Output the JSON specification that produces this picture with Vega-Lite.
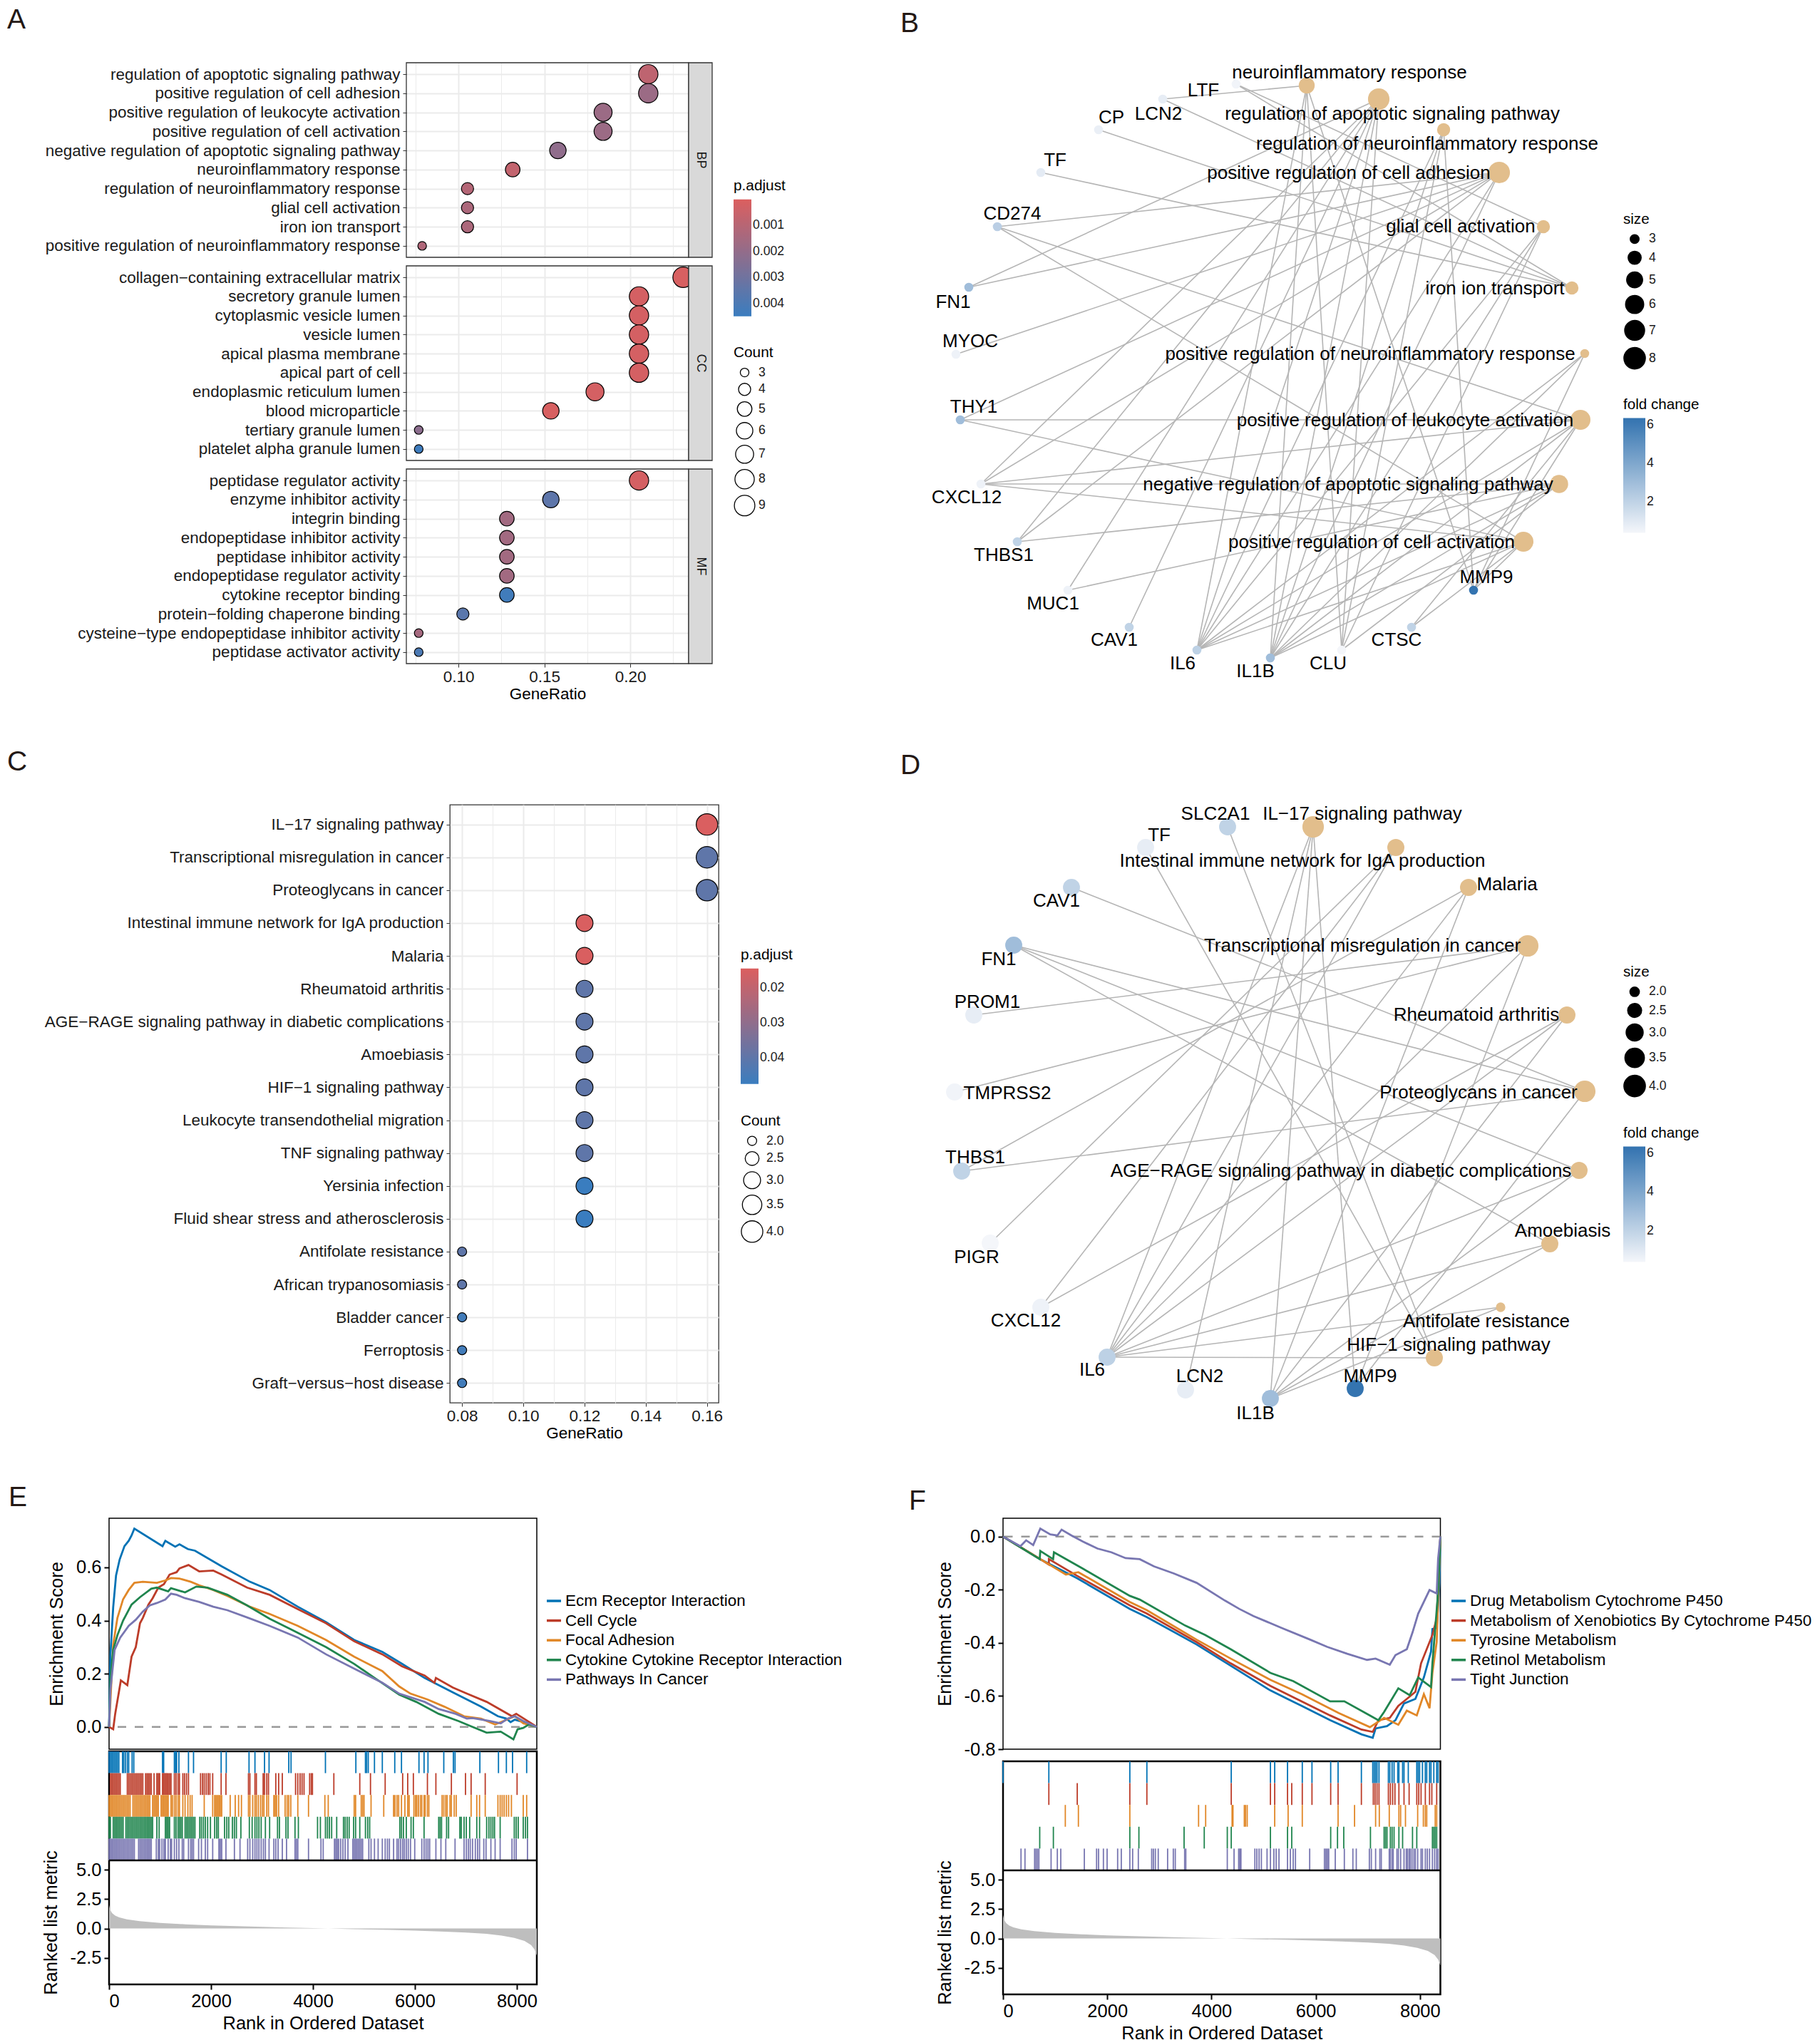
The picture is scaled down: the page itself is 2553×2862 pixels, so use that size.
{
"$schema": "https://vega.github.io/schema/vega-lite/v6.json",
"background": "white",
"padding": {"left": 10, "top": 8, "right": 0, "bottom": 0},
"config": {
 "font": "Liberation Sans",
 "view": {"stroke": null},
 "axis": {"titleFontWeight": "normal", "labelColor": "#1A1A1A", "titleColor": "#000000", "tickColor": "#333333", "domain": false, "grid": false},
 "legend": {"titleFontWeight": "normal", "labelColor": "#1A1A1A", "titleColor": "#000000"},
 "title": {"fontWeight": "normal"}
},
"datasets": {
 "blank": [{"t": ""}],
 "goA": [
  {"ont":"BP","desc":"regulation of apoptotic signaling pathway","ratio":0.2105,"count":8,"padj":0.0008},
  {"ont":"BP","desc":"positive regulation of cell adhesion","ratio":0.2105,"count":8,"padj":0.0018},
  {"ont":"BP","desc":"positive regulation of leukocyte activation","ratio":0.1842,"count":7,"padj":0.0018},
  {"ont":"BP","desc":"positive regulation of cell activation","ratio":0.1842,"count":7,"padj":0.0018},
  {"ont":"BP","desc":"negative regulation of apoptotic signaling pathway","ratio":0.1579,"count":6,"padj":0.0021},
  {"ont":"BP","desc":"neuroinflammatory response","ratio":0.1316,"count":5,"padj":0.0007},
  {"ont":"BP","desc":"regulation of neuroinflammatory response","ratio":0.1053,"count":4,"padj":0.0011},
  {"ont":"BP","desc":"glial cell activation","ratio":0.1053,"count":4,"padj":0.0013},
  {"ont":"BP","desc":"iron ion transport","ratio":0.1053,"count":4,"padj":0.0013},
  {"ont":"BP","desc":"positive regulation of neuroinflammatory response","ratio":0.0789,"count":3,"padj":0.0012},
  {"ont":"CC","desc":"collagen−containing extracellular matrix","ratio":0.2308,"count":9,"padj":0.0001},
  {"ont":"CC","desc":"secretory granule lumen","ratio":0.2051,"count":8,"padj":0.0002},
  {"ont":"CC","desc":"cytoplasmic vesicle lumen","ratio":0.2051,"count":8,"padj":0.0002},
  {"ont":"CC","desc":"vesicle lumen","ratio":0.2051,"count":8,"padj":0.0002},
  {"ont":"CC","desc":"apical plasma membrane","ratio":0.2051,"count":8,"padj":0.0002},
  {"ont":"CC","desc":"apical part of cell","ratio":0.2051,"count":8,"padj":0.0002},
  {"ont":"CC","desc":"endoplasmic reticulum lumen","ratio":0.1795,"count":7,"padj":0.0002},
  {"ont":"CC","desc":"blood microparticle","ratio":0.1538,"count":6,"padj":0.0001},
  {"ont":"CC","desc":"tertiary granule lumen","ratio":0.0769,"count":3,"padj":0.0022},
  {"ont":"CC","desc":"platelet alpha granule lumen","ratio":0.0769,"count":3,"padj":0.0044},
  {"ont":"MF","desc":"peptidase regulator activity","ratio":0.2051,"count":8,"padj":0.0002},
  {"ont":"MF","desc":"enzyme inhibitor activity","ratio":0.1538,"count":6,"padj":0.0035},
  {"ont":"MF","desc":"integrin binding","ratio":0.1282,"count":5,"padj":0.0016},
  {"ont":"MF","desc":"endopeptidase inhibitor activity","ratio":0.1282,"count":5,"padj":0.0016},
  {"ont":"MF","desc":"peptidase inhibitor activity","ratio":0.1282,"count":5,"padj":0.0016},
  {"ont":"MF","desc":"endopeptidase regulator activity","ratio":0.1282,"count":5,"padj":0.0016},
  {"ont":"MF","desc":"cytokine receptor binding","ratio":0.1282,"count":5,"padj":0.0043},
  {"ont":"MF","desc":"protein−folding chaperone binding","ratio":0.1026,"count":4,"padj":0.0036},
  {"ont":"MF","desc":"cysteine−type endopeptidase inhibitor activity","ratio":0.0769,"count":3,"padj":0.0015},
  {"ont":"MF","desc":"peptidase activator activity","ratio":0.0769,"count":3,"padj":0.0040}
 ],
 "ontA": [{"ont":"BP"},{"ont":"CC"},{"ont":"MF"}],
 "goC": [
  {"desc":"IL−17 signaling pathway","ratio":0.16,"count":4,"padj":0.0147},
  {"desc":"Transcriptional misregulation in cancer","ratio":0.16,"count":4,"padj":0.040},
  {"desc":"Proteoglycans in cancer","ratio":0.16,"count":4,"padj":0.040},
  {"desc":"Intestinal immune network for IgA production","ratio":0.12,"count":3,"padj":0.0150},
  {"desc":"Malaria","ratio":0.12,"count":3,"padj":0.0150},
  {"desc":"Rheumatoid arthritis","ratio":0.12,"count":3,"padj":0.040},
  {"desc":"AGE−RAGE signaling pathway in diabetic complications","ratio":0.12,"count":3,"padj":0.040},
  {"desc":"Amoebiasis","ratio":0.12,"count":3,"padj":0.040},
  {"desc":"HIF−1 signaling pathway","ratio":0.12,"count":3,"padj":0.040},
  {"desc":"Leukocyte transendothelial migration","ratio":0.12,"count":3,"padj":0.040},
  {"desc":"TNF signaling pathway","ratio":0.12,"count":3,"padj":0.040},
  {"desc":"Yersinia infection","ratio":0.12,"count":3,"padj":0.0476},
  {"desc":"Fluid shear stress and atherosclerosis","ratio":0.12,"count":3,"padj":0.0476},
  {"desc":"Antifolate resistance","ratio":0.08,"count":2,"padj":0.040},
  {"desc":"African trypanosomiasis","ratio":0.08,"count":2,"padj":0.040},
  {"desc":"Bladder cancer","ratio":0.08,"count":2,"padj":0.046},
  {"desc":"Ferroptosis","ratio":0.08,"count":2,"padj":0.046},
  {"desc":"Graft−versus−host disease","ratio":0.08,"count":2,"padj":0.046}
 ],
 "nodesB": [
  {"name":"neuroinflammatory response","type":"c","x":574,"y":116,"lx":634,"ly":98,"size":5},
  {"name":"regulation of apoptotic signaling pathway","type":"c","x":675,"y":135,"lx":694,"ly":156,"size":8},
  {"name":"regulation of neuroinflammatory response","type":"c","x":766,"y":178,"lx":743,"ly":198,"size":4},
  {"name":"positive regulation of cell adhesion","type":"c","x":844,"y":238,"lx":633,"ly":239,"size":8},
  {"name":"glial cell activation","type":"c","x":906,"y":314,"lx":790,"ly":314,"size":4},
  {"name":"iron ion transport","type":"c","x":946,"y":400,"lx":838,"ly":401,"size":4},
  {"name":"positive regulation of neuroinflammatory response","type":"c","x":964,"y":492,"lx":663,"ly":493,"size":3},
  {"name":"positive regulation of leukocyte activation","type":"c","x":958,"y":585,"lx":712,"ly":586,"size":7},
  {"name":"negative regulation of apoptotic signaling pathway","type":"c","x":928,"y":675,"lx":632,"ly":676,"size":6},
  {"name":"positive regulation of cell activation","type":"c","x":878,"y":756,"lx":665,"ly":757,"size":7},
  {"name":"LTF","type":"g","x":475,"y":114,"lx":429,"ly":123,"fc":0.5},
  {"name":"LCN2","type":"g","x":372,"y":135,"lx":366,"ly":156,"fc":0.8},
  {"name":"CP","type":"g","x":282,"y":178,"lx":300,"ly":161,"fc":0.7},
  {"name":"TF","type":"g","x":201,"y":238,"lx":221,"ly":221,"fc":0.9},
  {"name":"CD274","type":"g","x":140,"y":314,"lx":161,"ly":296,"fc":2.2},
  {"name":"FN1","type":"g","x":100,"y":399,"lx":78,"ly":420,"fc":3.0},
  {"name":"MYOC","type":"g","x":82,"y":493,"lx":102,"ly":475,"fc":0.6},
  {"name":"THY1","type":"g","x":88,"y":585,"lx":107,"ly":567,"fc":3.0},
  {"name":"CXCL12","type":"g","x":117,"y":675,"lx":97,"ly":694,"fc":0.6},
  {"name":"THBS1","type":"g","x":168,"y":756,"lx":149,"ly":775,"fc":2.0},
  {"name":"MUC1","type":"g","x":239,"y":824,"lx":218,"ly":843,"fc":0.6},
  {"name":"CAV1","type":"g","x":325,"y":876,"lx":304,"ly":894,"fc":2.0},
  {"name":"IL6","type":"g","x":420,"y":908,"lx":400,"ly":927,"fc":2.1},
  {"name":"IL1B","type":"g","x":523,"y":919,"lx":502,"ly":938,"fc":3.0},
  {"name":"CLU","type":"g","x":623,"y":908,"lx":604,"ly":927,"fc":0.4},
  {"name":"CTSC","type":"g","x":721,"y":876,"lx":700,"ly":894,"fc":2.0},
  {"name":"MMP9","type":"g","x":808,"y":824,"lx":826,"ly":806,"fc":6.3}
 ],
 "edgesB": [
  {"g":"IL6","c":"regulation of apoptotic signaling pathway"},{"g":"IL1B","c":"regulation of apoptotic signaling pathway"},{"g":"CLU","c":"regulation of apoptotic signaling pathway"},{"g":"CAV1","c":"regulation of apoptotic signaling pathway"},{"g":"THBS1","c":"regulation of apoptotic signaling pathway"},{"g":"CXCL12","c":"regulation of apoptotic signaling pathway"},{"g":"MUC1","c":"regulation of apoptotic signaling pathway"},{"g":"FN1","c":"regulation of apoptotic signaling pathway"},
  {"g":"IL6","c":"negative regulation of apoptotic signaling pathway"},{"g":"IL1B","c":"negative regulation of apoptotic signaling pathway"},{"g":"CLU","c":"negative regulation of apoptotic signaling pathway"},{"g":"THBS1","c":"negative regulation of apoptotic signaling pathway"},{"g":"CXCL12","c":"negative regulation of apoptotic signaling pathway"},{"g":"MUC1","c":"negative regulation of apoptotic signaling pathway"},
  {"g":"IL6","c":"positive regulation of cell adhesion"},{"g":"IL1B","c":"positive regulation of cell adhesion"},{"g":"CD274","c":"positive regulation of cell adhesion"},{"g":"FN1","c":"positive regulation of cell adhesion"},{"g":"THY1","c":"positive regulation of cell adhesion"},{"g":"CXCL12","c":"positive regulation of cell adhesion"},{"g":"THBS1","c":"positive regulation of cell adhesion"},{"g":"MYOC","c":"positive regulation of cell adhesion"},
  {"g":"IL6","c":"positive regulation of leukocyte activation"},{"g":"IL1B","c":"positive regulation of leukocyte activation"},{"g":"CD274","c":"positive regulation of leukocyte activation"},{"g":"THY1","c":"positive regulation of leukocyte activation"},{"g":"CXCL12","c":"positive regulation of leukocyte activation"},{"g":"CTSC","c":"positive regulation of leukocyte activation"},{"g":"MMP9","c":"positive regulation of leukocyte activation"},
  {"g":"IL6","c":"positive regulation of cell activation"},{"g":"IL1B","c":"positive regulation of cell activation"},{"g":"CD274","c":"positive regulation of cell activation"},{"g":"THY1","c":"positive regulation of cell activation"},{"g":"CXCL12","c":"positive regulation of cell activation"},{"g":"CTSC","c":"positive regulation of cell activation"},{"g":"MMP9","c":"positive regulation of cell activation"},
  {"g":"IL6","c":"neuroinflammatory response"},{"g":"IL1B","c":"neuroinflammatory response"},{"g":"CLU","c":"neuroinflammatory response"},{"g":"MMP9","c":"neuroinflammatory response"},{"g":"LCN2","c":"neuroinflammatory response"},
  {"g":"IL6","c":"regulation of neuroinflammatory response"},{"g":"IL1B","c":"regulation of neuroinflammatory response"},{"g":"CLU","c":"regulation of neuroinflammatory response"},{"g":"MMP9","c":"regulation of neuroinflammatory response"},
  {"g":"IL6","c":"glial cell activation"},{"g":"IL1B","c":"glial cell activation"},{"g":"CLU","c":"glial cell activation"},{"g":"LTF","c":"glial cell activation"},
  {"g":"LTF","c":"iron ion transport"},{"g":"LCN2","c":"iron ion transport"},{"g":"CP","c":"iron ion transport"},{"g":"TF","c":"iron ion transport"},
  {"g":"IL6","c":"positive regulation of neuroinflammatory response"},{"g":"IL1B","c":"positive regulation of neuroinflammatory response"},{"g":"MMP9","c":"positive regulation of neuroinflammatory response"}
 ],
 "nodesD": [
  {"name":"IL−17 signaling pathway","type":"c","x":583,"y":115,"lx":652,"ly":97,"size":4},
  {"name":"Intestinal immune network for IgA production","type":"c","x":699,"y":144,"lx":568,"ly":163,"size":3},
  {"name":"Malaria","type":"c","x":801,"y":200,"lx":855,"ly":196,"size":3},
  {"name":"Transcriptional misregulation in cancer","type":"c","x":884,"y":282,"lx":652,"ly":282,"size":4},
  {"name":"Rheumatoid arthritis","type":"c","x":939,"y":379,"lx":812,"ly":379,"size":3},
  {"name":"Proteoglycans in cancer","type":"c","x":964,"y":486,"lx":815,"ly":488,"size":4},
  {"name":"AGE−RAGE signaling pathway in diabetic complications","type":"c","x":956,"y":597,"lx":622,"ly":598,"size":3},
  {"name":"Amoebiasis","type":"c","x":915,"y":700,"lx":933,"ly":682,"size":3},
  {"name":"Antifolate resistance","type":"c","x":846,"y":789,"lx":826,"ly":809,"size":2},
  {"name":"HIF−1 signaling pathway","type":"c","x":753,"y":860,"lx":773,"ly":842,"size":3},
  {"name":"SLC2A1","type":"g","x":463,"y":115,"lx":446,"ly":97,"fc":2.0},
  {"name":"TF","type":"g","x":348,"y":144,"lx":367,"ly":127,"fc":0.8},
  {"name":"CAV1","type":"g","x":244,"y":200,"lx":223,"ly":219,"fc":2.0},
  {"name":"FN1","type":"g","x":163,"y":281,"lx":142,"ly":301,"fc":3.0},
  {"name":"PROM1","type":"g","x":107,"y":379,"lx":126,"ly":361,"fc":0.8},
  {"name":"TMPRSS2","type":"g","x":80,"y":487,"lx":154,"ly":489,"fc":0.5},
  {"name":"THBS1","type":"g","x":90,"y":598,"lx":109,"ly":579,"fc":2.0},
  {"name":"PIGR","type":"g","x":130,"y":699,"lx":111,"ly":719,"fc":0.4},
  {"name":"CXCL12","type":"g","x":201,"y":789,"lx":180,"ly":808,"fc":0.6},
  {"name":"IL6","type":"g","x":294,"y":859,"lx":273,"ly":877,"fc":2.1},
  {"name":"LCN2","type":"g","x":404,"y":905,"lx":424,"ly":886,"fc":0.8},
  {"name":"IL1B","type":"g","x":523,"y":917,"lx":502,"ly":938,"fc":3.0},
  {"name":"MMP9","type":"g","x":642,"y":903,"lx":663,"ly":886,"fc":6.3}
 ],
 "edgesD": [
  {"g":"IL6","c":"IL−17 signaling pathway"},{"g":"IL1B","c":"IL−17 signaling pathway"},{"g":"MMP9","c":"IL−17 signaling pathway"},{"g":"LCN2","c":"IL−17 signaling pathway"},
  {"g":"IL6","c":"Intestinal immune network for IgA production"},{"g":"PIGR","c":"Intestinal immune network for IgA production"},{"g":"CXCL12","c":"Intestinal immune network for IgA production"},
  {"g":"IL6","c":"Malaria"},{"g":"IL1B","c":"Malaria"},{"g":"THBS1","c":"Malaria"},
  {"g":"IL6","c":"Transcriptional misregulation in cancer"},{"g":"MMP9","c":"Transcriptional misregulation in cancer"},{"g":"TMPRSS2","c":"Transcriptional misregulation in cancer"},{"g":"PROM1","c":"Transcriptional misregulation in cancer"},
  {"g":"IL6","c":"Rheumatoid arthritis"},{"g":"IL1B","c":"Rheumatoid arthritis"},{"g":"CXCL12","c":"Rheumatoid arthritis"},
  {"g":"CAV1","c":"Proteoglycans in cancer"},{"g":"FN1","c":"Proteoglycans in cancer"},{"g":"THBS1","c":"Proteoglycans in cancer"},{"g":"MMP9","c":"Proteoglycans in cancer"},
  {"g":"IL6","c":"AGE−RAGE signaling pathway in diabetic complications"},{"g":"IL1B","c":"AGE−RAGE signaling pathway in diabetic complications"},{"g":"FN1","c":"AGE−RAGE signaling pathway in diabetic complications"},
  {"g":"IL6","c":"Amoebiasis"},{"g":"IL1B","c":"Amoebiasis"},{"g":"FN1","c":"Amoebiasis"},
  {"g":"IL6","c":"Antifolate resistance"},{"g":"IL1B","c":"Antifolate resistance"},
  {"g":"IL6","c":"HIF−1 signaling pathway"},{"g":"SLC2A1","c":"HIF−1 signaling pathway"},{"g":"TF","c":"HIF−1 signaling pathway"}
 ],
 "esE": [
  {"s":"Ecm Receptor Interaction","r":0,"v":0},{"s":"Ecm Receptor Interaction","r":26,"v":0.27},{"s":"Ecm Receptor Interaction","r":81,"v":0.45},{"s":"Ecm Receptor Interaction","r":137,"v":0.57},{"s":"Ecm Receptor Interaction","r":208,"v":0.63},{"s":"Ecm Receptor Interaction","r":302,"v":0.68},{"s":"Ecm Receptor Interaction","r":385,"v":0.70},{"s":"Ecm Receptor Interaction","r":441,"v":0.72},{"s":"Ecm Receptor Interaction","r":496,"v":0.746},{"s":"Ecm Receptor Interaction","r":1049,"v":0.68},{"s":"Ecm Receptor Interaction","r":1104,"v":0.70},{"s":"Ecm Receptor Interaction","r":1298,"v":0.678},{"s":"Ecm Receptor Interaction","r":1381,"v":0.687},{"s":"Ecm Receptor Interaction","r":1546,"v":0.669},{"s":"Ecm Receptor Interaction","r":1685,"v":0.663},{"s":"Ecm Receptor Interaction","r":2210,"v":0.604},{"s":"Ecm Receptor Interaction","r":2763,"v":0.546},{"s":"Ecm Receptor Interaction","r":3150,"v":0.515},{"s":"Ecm Receptor Interaction","r":3703,"v":0.452},{"s":"Ecm Receptor Interaction","r":4256,"v":0.394},{"s":"Ecm Receptor Interaction","r":4809,"v":0.327},{"s":"Ecm Receptor Interaction","r":5361,"v":0.282},{"s":"Ecm Receptor Interaction","r":5748,"v":0.237},{"s":"Ecm Receptor Interaction","r":6191,"v":0.184},{"s":"Ecm Receptor Interaction","r":6744,"v":0.13},{"s":"Ecm Receptor Interaction","r":7297,"v":0.076},{"s":"Ecm Receptor Interaction","r":7629,"v":0.04},{"s":"Ecm Receptor Interaction","r":7795,"v":0.031},{"s":"Ecm Receptor Interaction","r":7878,"v":0.018},{"s":"Ecm Receptor Interaction","r":7961,"v":0.027},{"s":"Ecm Receptor Interaction","r":8126,"v":0.018},{"s":"Ecm Receptor Interaction","r":8392,"v":0},
  {"s":"Cell Cycle","r":0,"v":0},{"s":"Cell Cycle","r":81,"v":-0.009},{"s":"Cell Cycle","r":120,"v":0.049},{"s":"Cell Cycle","r":192,"v":0.13},{"s":"Cell Cycle","r":231,"v":0.175},{"s":"Cell Cycle","r":358,"v":0.157},{"s":"Cell Cycle","r":441,"v":0.264},{"s":"Cell Cycle","r":524,"v":0.30},{"s":"Cell Cycle","r":607,"v":0.39},{"s":"Cell Cycle","r":662,"v":0.41},{"s":"Cell Cycle","r":772,"v":0.46},{"s":"Cell Cycle","r":855,"v":0.484},{"s":"Cell Cycle","r":966,"v":0.524},{"s":"Cell Cycle","r":1076,"v":0.537},{"s":"Cell Cycle","r":1187,"v":0.573},{"s":"Cell Cycle","r":1325,"v":0.582},{"s":"Cell Cycle","r":1381,"v":0.596},{"s":"Cell Cycle","r":1558,"v":0.609},{"s":"Cell Cycle","r":1768,"v":0.585},{"s":"Cell Cycle","r":2044,"v":0.588},{"s":"Cell Cycle","r":2210,"v":0.573},{"s":"Cell Cycle","r":2707,"v":0.524},{"s":"Cell Cycle","r":3150,"v":0.497},{"s":"Cell Cycle","r":3703,"v":0.443},{"s":"Cell Cycle","r":4256,"v":0.39},{"s":"Cell Cycle","r":4809,"v":0.322},{"s":"Cell Cycle","r":5361,"v":0.273},{"s":"Cell Cycle","r":5748,"v":0.228},{"s":"Cell Cycle","r":6191,"v":0.193},{"s":"Cell Cycle","r":6384,"v":0.166},{"s":"Cell Cycle","r":6412,"v":0.184},{"s":"Cell Cycle","r":6744,"v":0.148},{"s":"Cell Cycle","r":7020,"v":0.125},{"s":"Cell Cycle","r":7408,"v":0.094},{"s":"Cell Cycle","r":7905,"v":0.04},{"s":"Cell Cycle","r":7988,"v":0.049},{"s":"Cell Cycle","r":8392,"v":0},
  {"s":"Focal Adhesion","r":0,"v":0},{"s":"Focal Adhesion","r":26,"v":0.094},{"s":"Focal Adhesion","r":81,"v":0.31},{"s":"Focal Adhesion","r":164,"v":0.41},{"s":"Focal Adhesion","r":275,"v":0.48},{"s":"Focal Adhesion","r":385,"v":0.515},{"s":"Focal Adhesion","r":496,"v":0.542},{"s":"Focal Adhesion","r":662,"v":0.546},{"s":"Focal Adhesion","r":938,"v":0.542},{"s":"Focal Adhesion","r":1104,"v":0.551},{"s":"Focal Adhesion","r":1215,"v":0.56},{"s":"Focal Adhesion","r":1381,"v":0.558},{"s":"Focal Adhesion","r":1602,"v":0.546},{"s":"Focal Adhesion","r":1768,"v":0.533},{"s":"Focal Adhesion","r":2044,"v":0.515},{"s":"Focal Adhesion","r":2320,"v":0.493},{"s":"Focal Adhesion","r":2763,"v":0.452},{"s":"Focal Adhesion","r":3150,"v":0.425},{"s":"Focal Adhesion","r":3703,"v":0.38},{"s":"Focal Adhesion","r":4256,"v":0.327},{"s":"Focal Adhesion","r":4809,"v":0.264},{"s":"Focal Adhesion","r":5361,"v":0.21},{"s":"Focal Adhesion","r":5693,"v":0.152},{"s":"Focal Adhesion","r":5914,"v":0.125},{"s":"Focal Adhesion","r":6246,"v":0.103},{"s":"Focal Adhesion","r":6578,"v":0.076},{"s":"Focal Adhesion","r":6965,"v":0.04},{"s":"Focal Adhesion","r":7297,"v":0.031},{"s":"Focal Adhesion","r":7574,"v":0.009},{"s":"Focal Adhesion","r":7740,"v":0.022},{"s":"Focal Adhesion","r":7961,"v":0.04},{"s":"Focal Adhesion","r":8126,"v":0.013},{"s":"Focal Adhesion","r":8392,"v":0},
  {"s":"Cytokine Cytokine Receptor Interaction","r":0,"v":0},{"s":"Cytokine Cytokine Receptor Interaction","r":26,"v":0.18},{"s":"Cytokine Cytokine Receptor Interaction","r":81,"v":0.29},{"s":"Cytokine Cytokine Receptor Interaction","r":164,"v":0.345},{"s":"Cytokine Cytokine Receptor Interaction","r":275,"v":0.40},{"s":"Cytokine Cytokine Receptor Interaction","r":441,"v":0.46},{"s":"Cytokine Cytokine Receptor Interaction","r":607,"v":0.488},{"s":"Cytokine Cytokine Receptor Interaction","r":828,"v":0.52},{"s":"Cytokine Cytokine Receptor Interaction","r":938,"v":0.524},{"s":"Cytokine Cytokine Receptor Interaction","r":1159,"v":0.51},{"s":"Cytokine Cytokine Receptor Interaction","r":1215,"v":0.522},{"s":"Cytokine Cytokine Receptor Interaction","r":1491,"v":0.506},{"s":"Cytokine Cytokine Receptor Interaction","r":1712,"v":0.528},{"s":"Cytokine Cytokine Receptor Interaction","r":1934,"v":0.524},{"s":"Cytokine Cytokine Receptor Interaction","r":2320,"v":0.497},{"s":"Cytokine Cytokine Receptor Interaction","r":2707,"v":0.457},{"s":"Cytokine Cytokine Receptor Interaction","r":3150,"v":0.407},{"s":"Cytokine Cytokine Receptor Interaction","r":3703,"v":0.354},{"s":"Cytokine Cytokine Receptor Interaction","r":4256,"v":0.30},{"s":"Cytokine Cytokine Receptor Interaction","r":4809,"v":0.237},{"s":"Cytokine Cytokine Receptor Interaction","r":5140,"v":0.193},{"s":"Cytokine Cytokine Receptor Interaction","r":5693,"v":0.121},{"s":"Cytokine Cytokine Receptor Interaction","r":6025,"v":0.094},{"s":"Cytokine Cytokine Receptor Interaction","r":6467,"v":0.049},{"s":"Cytokine Cytokine Receptor Interaction","r":6854,"v":0.022},{"s":"Cytokine Cytokine Receptor Interaction","r":7131,"v":0},{"s":"Cytokine Cytokine Receptor Interaction","r":7408,"v":-0.022},{"s":"Cytokine Cytokine Receptor Interaction","r":7684,"v":-0.018},{"s":"Cytokine Cytokine Receptor Interaction","r":7933,"v":-0.047},{"s":"Cytokine Cytokine Receptor Interaction","r":8016,"v":-0.009},{"s":"Cytokine Cytokine Receptor Interaction","r":8126,"v":-0.004},{"s":"Cytokine Cytokine Receptor Interaction","r":8237,"v":0.009},{"s":"Cytokine Cytokine Receptor Interaction","r":8392,"v":0},
  {"s":"Pathways In Cancer","r":0,"v":0},{"s":"Pathways In Cancer","r":26,"v":0.139},{"s":"Pathways In Cancer","r":109,"v":0.29},{"s":"Pathways In Cancer","r":219,"v":0.336},{"s":"Pathways In Cancer","r":385,"v":0.38},{"s":"Pathways In Cancer","r":524,"v":0.403},{"s":"Pathways In Cancer","r":662,"v":0.434},{"s":"Pathways In Cancer","r":800,"v":0.457},{"s":"Pathways In Cancer","r":938,"v":0.466},{"s":"Pathways In Cancer","r":1104,"v":0.479},{"s":"Pathways In Cancer","r":1215,"v":0.501},{"s":"Pathways In Cancer","r":1325,"v":0.497},{"s":"Pathways In Cancer","r":1491,"v":0.484},{"s":"Pathways In Cancer","r":1768,"v":0.47},{"s":"Pathways In Cancer","r":2044,"v":0.452},{"s":"Pathways In Cancer","r":2320,"v":0.439},{"s":"Pathways In Cancer","r":2707,"v":0.412},{"s":"Pathways In Cancer","r":3150,"v":0.38},{"s":"Pathways In Cancer","r":3703,"v":0.336},{"s":"Pathways In Cancer","r":4256,"v":0.273},{"s":"Pathways In Cancer","r":4809,"v":0.219},{"s":"Pathways In Cancer","r":5361,"v":0.166},{"s":"Pathways In Cancer","r":5693,"v":0.125},{"s":"Pathways In Cancer","r":6191,"v":0.094},{"s":"Pathways In Cancer","r":6467,"v":0.067},{"s":"Pathways In Cancer","r":6799,"v":0.049},{"s":"Pathways In Cancer","r":7020,"v":0.031},{"s":"Pathways In Cancer","r":7131,"v":0.033},{"s":"Pathways In Cancer","r":7463,"v":0.022},{"s":"Pathways In Cancer","r":7684,"v":0.013},{"s":"Pathways In Cancer","r":7822,"v":0.031},{"s":"Pathways In Cancer","r":7961,"v":0.04},{"s":"Pathways In Cancer","r":8126,"v":0.022},{"s":"Pathways In Cancer","r":8392,"v":0}
 ],
 "esF": [
  {"s":"Drug Metabolism Cytochrome P450","r":0,"v":0},{"s":"Drug Metabolism Cytochrome P450","r":715,"v":-0.085},{"s":"Drug Metabolism Cytochrome P450","r":1424,"v":-0.157},{"s":"Drug Metabolism Cytochrome P450","r":2433,"v":-0.272},{"s":"Drug Metabolism Cytochrome P450","r":2760,"v":-0.303},{"s":"Drug Metabolism Cytochrome P450","r":3714,"v":-0.406},{"s":"Drug Metabolism Cytochrome P450","r":4368,"v":-0.486},{"s":"Drug Metabolism Cytochrome P450","r":5131,"v":-0.579},{"s":"Drug Metabolism Cytochrome P450","r":5459,"v":-0.611},{"s":"Drug Metabolism Cytochrome P450","r":5731,"v":-0.637},{"s":"Drug Metabolism Cytochrome P450","r":6276,"v":-0.691},{"s":"Drug Metabolism Cytochrome P450","r":6876,"v":-0.744},{"s":"Drug Metabolism Cytochrome P450","r":7094,"v":-0.757},{"s":"Drug Metabolism Cytochrome P450","r":7149,"v":-0.722},{"s":"Drug Metabolism Cytochrome P450","r":7367,"v":-0.713},{"s":"Drug Metabolism Cytochrome P450","r":7530,"v":-0.691},{"s":"Drug Metabolism Cytochrome P450","r":7694,"v":-0.628},{"s":"Drug Metabolism Cytochrome P450","r":7912,"v":-0.611},{"s":"Drug Metabolism Cytochrome P450","r":8075,"v":-0.53},{"s":"Drug Metabolism Cytochrome P450","r":8212,"v":-0.433},{"s":"Drug Metabolism Cytochrome P450","r":8239,"v":-0.348},{"s":"Drug Metabolism Cytochrome P450","r":8321,"v":-0.344},{"s":"Drug Metabolism Cytochrome P450","r":8375,"v":-0.174},{"s":"Drug Metabolism Cytochrome P450","r":8392,"v":0},
  {"s":"Metabolism of Xenobiotics By Cytochrome P450","r":0,"v":0},{"s":"Metabolism of Xenobiotics By Cytochrome P450","r":715,"v":-0.085},{"s":"Metabolism of Xenobiotics By Cytochrome P450","r":879,"v":-0.105},{"s":"Metabolism of Xenobiotics By Cytochrome P450","r":880,"v":-0.085},{"s":"Metabolism of Xenobiotics By Cytochrome P450","r":1424,"v":-0.148},{"s":"Metabolism of Xenobiotics By Cytochrome P450","r":2433,"v":-0.259},{"s":"Metabolism of Xenobiotics By Cytochrome P450","r":2760,"v":-0.29},{"s":"Metabolism of Xenobiotics By Cytochrome P450","r":3714,"v":-0.397},{"s":"Metabolism of Xenobiotics By Cytochrome P450","r":4368,"v":-0.477},{"s":"Metabolism of Xenobiotics By Cytochrome P450","r":5131,"v":-0.562},{"s":"Metabolism of Xenobiotics By Cytochrome P450","r":5731,"v":-0.62},{"s":"Metabolism of Xenobiotics By Cytochrome P450","r":6276,"v":-0.673},{"s":"Metabolism of Xenobiotics By Cytochrome P450","r":6876,"v":-0.726},{"s":"Metabolism of Xenobiotics By Cytochrome P450","r":7094,"v":-0.735},{"s":"Metabolism of Xenobiotics By Cytochrome P450","r":7203,"v":-0.691},{"s":"Metabolism of Xenobiotics By Cytochrome P450","r":7421,"v":-0.682},{"s":"Metabolism of Xenobiotics By Cytochrome P450","r":7585,"v":-0.637},{"s":"Metabolism of Xenobiotics By Cytochrome P450","r":7748,"v":-0.611},{"s":"Metabolism of Xenobiotics By Cytochrome P450","r":7912,"v":-0.584},{"s":"Metabolism of Xenobiotics By Cytochrome P450","r":8021,"v":-0.477},{"s":"Metabolism of Xenobiotics By Cytochrome P450","r":8239,"v":-0.37},{"s":"Metabolism of Xenobiotics By Cytochrome P450","r":8321,"v":-0.308},{"s":"Metabolism of Xenobiotics By Cytochrome P450","r":8392,"v":0},
  {"s":"Tyrosine Metabolism","r":0,"v":0},{"s":"Tyrosine Metabolism","r":715,"v":-0.085},{"s":"Tyrosine Metabolism","r":1206,"v":-0.143},{"s":"Tyrosine Metabolism","r":1446,"v":-0.134},{"s":"Tyrosine Metabolism","r":2433,"v":-0.246},{"s":"Tyrosine Metabolism","r":2760,"v":-0.277},{"s":"Tyrosine Metabolism","r":3714,"v":-0.388},{"s":"Tyrosine Metabolism","r":4368,"v":-0.459},{"s":"Tyrosine Metabolism","r":5131,"v":-0.539},{"s":"Tyrosine Metabolism","r":5731,"v":-0.593},{"s":"Tyrosine Metabolism","r":6440,"v":-0.664},{"s":"Tyrosine Metabolism","r":7040,"v":-0.717},{"s":"Tyrosine Metabolism","r":7312,"v":-0.682},{"s":"Tyrosine Metabolism","r":7585,"v":-0.708},{"s":"Tyrosine Metabolism","r":7748,"v":-0.655},{"s":"Tyrosine Metabolism","r":7939,"v":-0.673},{"s":"Tyrosine Metabolism","r":8075,"v":-0.593},{"s":"Tyrosine Metabolism","r":8184,"v":-0.646},{"s":"Tyrosine Metabolism","r":8239,"v":-0.513},{"s":"Tyrosine Metabolism","r":8321,"v":-0.397},{"s":"Tyrosine Metabolism","r":8359,"v":-0.174},{"s":"Tyrosine Metabolism","r":8392,"v":0},
  {"s":"Retinol Metabolism","r":0,"v":0},{"s":"Retinol Metabolism","r":704,"v":-0.085},{"s":"Retinol Metabolism","r":715,"v":-0.054},{"s":"Retinol Metabolism","r":961,"v":-0.085},{"s":"Retinol Metabolism","r":977,"v":-0.059},{"s":"Retinol Metabolism","r":1533,"v":-0.121},{"s":"Retinol Metabolism","r":2433,"v":-0.223},{"s":"Retinol Metabolism","r":2623,"v":-0.237},{"s":"Retinol Metabolism","r":3496,"v":-0.335},{"s":"Retinol Metabolism","r":3878,"v":-0.37},{"s":"Retinol Metabolism","r":4368,"v":-0.424},{"s":"Retinol Metabolism","r":5131,"v":-0.513},{"s":"Retinol Metabolism","r":5568,"v":-0.544},{"s":"Retinol Metabolism","r":6276,"v":-0.62},{"s":"Retinol Metabolism","r":6549,"v":-0.62},{"s":"Retinol Metabolism","r":7040,"v":-0.673},{"s":"Retinol Metabolism","r":7203,"v":-0.691},{"s":"Retinol Metabolism","r":7312,"v":-0.66},{"s":"Retinol Metabolism","r":7585,"v":-0.571},{"s":"Retinol Metabolism","r":7803,"v":-0.597},{"s":"Retinol Metabolism","r":7966,"v":-0.53},{"s":"Retinol Metabolism","r":8212,"v":-0.566},{"s":"Retinol Metabolism","r":8239,"v":-0.477},{"s":"Retinol Metabolism","r":8337,"v":-0.237},{"s":"Retinol Metabolism","r":8375,"v":-0.085},{"s":"Retinol Metabolism","r":8392,"v":0},
  {"s":"Tight Junction","r":0,"v":0},{"s":"Tight Junction","r":334,"v":-0.036},{"s":"Tight Junction","r":443,"v":-0.014},{"s":"Tight Junction","r":579,"v":-0.032},{"s":"Tight Junction","r":715,"v":0.03},{"s":"Tight Junction","r":906,"v":0.008},{"s":"Tight Junction","r":1042,"v":0.004},{"s":"Tight Junction","r":1124,"v":0.026},{"s":"Tight Junction","r":1315,"v":0.004},{"s":"Tight Junction","r":1533,"v":-0.019},{"s":"Tight Junction","r":1812,"v":-0.045},{"s":"Tight Junction","r":2078,"v":-0.059},{"s":"Tight Junction","r":2351,"v":-0.081},{"s":"Tight Junction","r":2623,"v":-0.085},{"s":"Tight Junction","r":2896,"v":-0.112},{"s":"Tight Junction","r":3278,"v":-0.139},{"s":"Tight Junction","r":3714,"v":-0.174},{"s":"Tight Junction","r":4259,"v":-0.241},{"s":"Tight Junction","r":4532,"v":-0.272},{"s":"Tight Junction","r":4805,"v":-0.299},{"s":"Tight Junction","r":5349,"v":-0.344},{"s":"Tight Junction","r":5895,"v":-0.388},{"s":"Tight Junction","r":6222,"v":-0.415},{"s":"Tight Junction","r":6604,"v":-0.441},{"s":"Tight Junction","r":6985,"v":-0.464},{"s":"Tight Junction","r":7149,"v":-0.459},{"s":"Tight Junction","r":7421,"v":-0.482},{"s":"Tight Junction","r":7530,"v":-0.446},{"s":"Tight Junction","r":7748,"v":-0.424},{"s":"Tight Junction","r":7857,"v":-0.361},{"s":"Tight Junction","r":7966,"v":-0.29},{"s":"Tight Junction","r":8184,"v":-0.201},{"s":"Tight Junction","r":8321,"v":-0.214},{"s":"Tight Junction","r":8348,"v":-0.085},{"s":"Tight Junction","r":8392,"v":0}
 ],
 "rugE": [
  {"k":"Ecm","r":0},{"k":"Ecm","r":26},{"k":"Ecm","r":54},{"k":"Ecm","r":81},{"k":"Ecm","r":109},{"k":"Ecm","r":137},{"k":"Ecm","r":164},{"k":"Ecm","r":192},{"k":"Ecm","r":264},{"k":"Ecm","r":286},{"k":"Ecm","r":319},{"k":"Ecm","r":358},{"k":"Ecm","r":385},{"k":"Ecm","r":452},{"k":"Ecm","r":485},{"k":"Ecm","r":1049},{"k":"Ecm","r":1071},{"k":"Ecm","r":1281},{"k":"Ecm","r":1303},{"k":"Ecm","r":1325},{"k":"Ecm","r":1370},{"k":"Ecm","r":1558},{"k":"Ecm","r":1657},{"k":"Ecm","r":2199},{"k":"Ecm","r":2299},{"k":"Ecm","r":2746},{"k":"Ecm","r":2862},{"k":"Ecm","r":3050},{"k":"Ecm","r":3139},{"k":"Ecm","r":3526},{"k":"Ecm","r":3570},{"k":"Ecm","r":4245},{"k":"Ecm","r":4842},{"k":"Ecm","r":5030},{"k":"Ecm","r":5052},{"k":"Ecm","r":5085},{"k":"Ecm","r":5207},{"k":"Ecm","r":5361},{"k":"Ecm","r":5605},{"k":"Ecm","r":5737},{"k":"Ecm","r":6080},{"k":"Ecm","r":6180},{"k":"Ecm","r":6257},{"k":"Ecm","r":6567},{"k":"Ecm","r":6755},{"k":"Ecm","r":6788},{"k":"Ecm","r":7275},{"k":"Ecm","r":7640},{"k":"Ecm","r":7795},{"k":"Ecm","r":7916},{"k":"Ecm","r":8193},
  {"k":"Cell","r":26},{"k":"Cell","r":54},{"k":"Cell","r":81},{"k":"Cell","r":109},{"k":"Cell","r":137},{"k":"Cell","r":164},{"k":"Cell","r":192},{"k":"Cell","r":219},{"k":"Cell","r":358},{"k":"Cell","r":385},{"k":"Cell","r":413},{"k":"Cell","r":441},{"k":"Cell","r":468},{"k":"Cell","r":496},{"k":"Cell","r":524},{"k":"Cell","r":551},{"k":"Cell","r":579},{"k":"Cell","r":607},{"k":"Cell","r":634},{"k":"Cell","r":662},{"k":"Cell","r":717},{"k":"Cell","r":745},{"k":"Cell","r":772},{"k":"Cell","r":800},{"k":"Cell","r":828},{"k":"Cell","r":883},{"k":"Cell","r":938},{"k":"Cell","r":966},{"k":"Cell","r":993},{"k":"Cell","r":1049},{"k":"Cell","r":1076},{"k":"Cell","r":1104},{"k":"Cell","r":1132},{"k":"Cell","r":1159},{"k":"Cell","r":1187},{"k":"Cell","r":1215},{"k":"Cell","r":1281},{"k":"Cell","r":1314},{"k":"Cell","r":1353},{"k":"Cell","r":1381},{"k":"Cell","r":1447},{"k":"Cell","r":1480},{"k":"Cell","r":1519},{"k":"Cell","r":1558},{"k":"Cell","r":1795},{"k":"Cell","r":1834},{"k":"Cell","r":1867},{"k":"Cell","r":1906},{"k":"Cell","r":1945},{"k":"Cell","r":1978},{"k":"Cell","r":2033},{"k":"Cell","r":2199},{"k":"Cell","r":2293},{"k":"Cell","r":2735},{"k":"Cell","r":2763},{"k":"Cell","r":2862},{"k":"Cell","r":2890},{"k":"Cell","r":3023},{"k":"Cell","r":3050},{"k":"Cell","r":3094},{"k":"Cell","r":3128},{"k":"Cell","r":3271},{"k":"Cell","r":3327},{"k":"Cell","r":3399},{"k":"Cell","r":3659},{"k":"Cell","r":3703},{"k":"Cell","r":3747},{"k":"Cell","r":3786},{"k":"Cell","r":3825},{"k":"Cell","r":3935},{"k":"Cell","r":3968},{"k":"Cell","r":3990},{"k":"Cell","r":4410},{"k":"Cell","r":4919},{"k":"Cell","r":5129},{"k":"Cell","r":5417},{"k":"Cell","r":5760},{"k":"Cell","r":5859},{"k":"Cell","r":5970},{"k":"Cell","r":6246},{"k":"Cell","r":6412},{"k":"Cell","r":6716},{"k":"Cell","r":6993},{"k":"Cell","r":7103},{"k":"Cell","r":7380},{"k":"Cell","r":8005},
  {"k":"Focal","r":0},{"k":"Focal","r":26},{"k":"Focal","r":54},{"k":"Focal","r":81},{"k":"Focal","r":109},{"k":"Focal","r":137},{"k":"Focal","r":164},{"k":"Focal","r":192},{"k":"Focal","r":219},{"k":"Focal","r":247},{"k":"Focal","r":275},{"k":"Focal","r":302},{"k":"Focal","r":330},{"k":"Focal","r":358},{"k":"Focal","r":385},{"k":"Focal","r":413},{"k":"Focal","r":468},{"k":"Focal","r":496},{"k":"Focal","r":524},{"k":"Focal","r":551},{"k":"Focal","r":579},{"k":"Focal","r":607},{"k":"Focal","r":634},{"k":"Focal","r":662},{"k":"Focal","r":690},{"k":"Focal","r":717},{"k":"Focal","r":745},{"k":"Focal","r":772},{"k":"Focal","r":800},{"k":"Focal","r":855},{"k":"Focal","r":883},{"k":"Focal","r":911},{"k":"Focal","r":938},{"k":"Focal","r":966},{"k":"Focal","r":1021},{"k":"Focal","r":1049},{"k":"Focal","r":1076},{"k":"Focal","r":1104},{"k":"Focal","r":1132},{"k":"Focal","r":1159},{"k":"Focal","r":1215},{"k":"Focal","r":1242},{"k":"Focal","r":1281},{"k":"Focal","r":1314},{"k":"Focal","r":1353},{"k":"Focal","r":1381},{"k":"Focal","r":1447},{"k":"Focal","r":1491},{"k":"Focal","r":1546},{"k":"Focal","r":1590},{"k":"Focal","r":1629},{"k":"Focal","r":1867},{"k":"Focal","r":2033},{"k":"Focal","r":2072},{"k":"Focal","r":2099},{"k":"Focal","r":2127},{"k":"Focal","r":2155},{"k":"Focal","r":2182},{"k":"Focal","r":2210},{"k":"Focal","r":2376},{"k":"Focal","r":2475},{"k":"Focal","r":2541},{"k":"Focal","r":2597},{"k":"Focal","r":2735},{"k":"Focal","r":2763},{"k":"Focal","r":2818},{"k":"Focal","r":2862},{"k":"Focal","r":2890},{"k":"Focal","r":2929},{"k":"Focal","r":2973},{"k":"Focal","r":3011},{"k":"Focal","r":3039},{"k":"Focal","r":3094},{"k":"Focal","r":3128},{"k":"Focal","r":3233},{"k":"Focal","r":3260},{"k":"Focal","r":3288},{"k":"Focal","r":3327},{"k":"Focal","r":3454},{"k":"Focal","r":3493},{"k":"Focal","r":3526},{"k":"Focal","r":3565},{"k":"Focal","r":3703},{"k":"Focal","r":3913},{"k":"Focal","r":4234},{"k":"Focal","r":4300},{"k":"Focal","r":4809},{"k":"Focal","r":4837},{"k":"Focal","r":4947},{"k":"Focal","r":4975},{"k":"Focal","r":5002},{"k":"Focal","r":5140},{"k":"Focal","r":5389},{"k":"Focal","r":5582},{"k":"Focal","r":5610},{"k":"Focal","r":5649},{"k":"Focal","r":5682},{"k":"Focal","r":5737},{"k":"Focal","r":5804},{"k":"Focal","r":5859},{"k":"Focal","r":5887},{"k":"Focal","r":5981},{"k":"Focal","r":6014},{"k":"Focal","r":6036},{"k":"Focal","r":6069},{"k":"Focal","r":6108},{"k":"Focal","r":6136},{"k":"Focal","r":6180},{"k":"Focal","r":6202},{"k":"Focal","r":6246},{"k":"Focal","r":6274},{"k":"Focal","r":6534},{"k":"Focal","r":6567},{"k":"Focal","r":6606},{"k":"Focal","r":6633},{"k":"Focal","r":6689},{"k":"Focal","r":6716},{"k":"Focal","r":6772},{"k":"Focal","r":6810},{"k":"Focal","r":7103},{"k":"Focal","r":7214},{"k":"Focal","r":7269},{"k":"Focal","r":7380},{"k":"Focal","r":7629},{"k":"Focal","r":7673},{"k":"Focal","r":7712},{"k":"Focal","r":7751},{"k":"Focal","r":7795},{"k":"Focal","r":7839},{"k":"Focal","r":7894},{"k":"Focal","r":8126},{"k":"Focal","r":8193},
  {"k":"Cytokine","r":0},{"k":"Cytokine","r":26},{"k":"Cytokine","r":81},{"k":"Cytokine","r":109},{"k":"Cytokine","r":137},{"k":"Cytokine","r":164},{"k":"Cytokine","r":192},{"k":"Cytokine","r":219},{"k":"Cytokine","r":247},{"k":"Cytokine","r":275},{"k":"Cytokine","r":330},{"k":"Cytokine","r":358},{"k":"Cytokine","r":385},{"k":"Cytokine","r":413},{"k":"Cytokine","r":441},{"k":"Cytokine","r":468},{"k":"Cytokine","r":496},{"k":"Cytokine","r":524},{"k":"Cytokine","r":551},{"k":"Cytokine","r":579},{"k":"Cytokine","r":607},{"k":"Cytokine","r":634},{"k":"Cytokine","r":662},{"k":"Cytokine","r":690},{"k":"Cytokine","r":717},{"k":"Cytokine","r":745},{"k":"Cytokine","r":772},{"k":"Cytokine","r":800},{"k":"Cytokine","r":828},{"k":"Cytokine","r":855},{"k":"Cytokine","r":938},{"k":"Cytokine","r":982},{"k":"Cytokine","r":1104},{"k":"Cytokine","r":1132},{"k":"Cytokine","r":1159},{"k":"Cytokine","r":1187},{"k":"Cytokine","r":1281},{"k":"Cytokine","r":1314},{"k":"Cytokine","r":1353},{"k":"Cytokine","r":1381},{"k":"Cytokine","r":1408},{"k":"Cytokine","r":1436},{"k":"Cytokine","r":1491},{"k":"Cytokine","r":1519},{"k":"Cytokine","r":1546},{"k":"Cytokine","r":1574},{"k":"Cytokine","r":1602},{"k":"Cytokine","r":1629},{"k":"Cytokine","r":1657},{"k":"Cytokine","r":1685},{"k":"Cytokine","r":1779},{"k":"Cytokine","r":1812},{"k":"Cytokine","r":1851},{"k":"Cytokine","r":1889},{"k":"Cytokine","r":1934},{"k":"Cytokine","r":1989},{"k":"Cytokine","r":2072},{"k":"Cytokine","r":2111},{"k":"Cytokine","r":2144},{"k":"Cytokine","r":2266},{"k":"Cytokine","r":2310},{"k":"Cytokine","r":2348},{"k":"Cytokine","r":2420},{"k":"Cytokine","r":2459},{"k":"Cytokine","r":2498},{"k":"Cytokine","r":2586},{"k":"Cytokine","r":2752},{"k":"Cytokine","r":2807},{"k":"Cytokine","r":2862},{"k":"Cytokine","r":2901},{"k":"Cytokine","r":2940},{"k":"Cytokine","r":2984},{"k":"Cytokine","r":3067},{"k":"Cytokine","r":3150},{"k":"Cytokine","r":3305},{"k":"Cytokine","r":3343},{"k":"Cytokine","r":3471},{"k":"Cytokine","r":3510},{"k":"Cytokine","r":3648},{"k":"Cytokine","r":3714},{"k":"Cytokine","r":4090},{"k":"Cytokine","r":4146},{"k":"Cytokine","r":4245},{"k":"Cytokine","r":4284},{"k":"Cytokine","r":4323},{"k":"Cytokine","r":4367},{"k":"Cytokine","r":4466},{"k":"Cytokine","r":4599},{"k":"Cytokine","r":4632},{"k":"Cytokine","r":4671},{"k":"Cytokine","r":4710},{"k":"Cytokine","r":4798},{"k":"Cytokine","r":4837},{"k":"Cytokine","r":4919},{"k":"Cytokine","r":5030},{"k":"Cytokine","r":5074},{"k":"Cytokine","r":5113},{"k":"Cytokine","r":5704},{"k":"Cytokine","r":5737},{"k":"Cytokine","r":5776},{"k":"Cytokine","r":5831},{"k":"Cytokine","r":5925},{"k":"Cytokine","r":5970},{"k":"Cytokine","r":6180},{"k":"Cytokine","r":6467},{"k":"Cytokine","r":6495},{"k":"Cytokine","r":6523},{"k":"Cytokine","r":6622},{"k":"Cytokine","r":6661},{"k":"Cytokine","r":6882},{"k":"Cytokine","r":6910},{"k":"Cytokine","r":6965},{"k":"Cytokine","r":7009},{"k":"Cytokine","r":7075},{"k":"Cytokine","r":7214},{"k":"Cytokine","r":7269},{"k":"Cytokine","r":7408},{"k":"Cytokine","r":7452},{"k":"Cytokine","r":7491},{"k":"Cytokine","r":7530},{"k":"Cytokine","r":7563},{"k":"Cytokine","r":7673},{"k":"Cytokine","r":7950},{"k":"Cytokine","r":7988},{"k":"Cytokine","r":8027},{"k":"Cytokine","r":8126},{"k":"Cytokine","r":8170},{"k":"Cytokine","r":8209},
  {"k":"Pathways","r":0},{"k":"Pathways","r":26},{"k":"Pathways","r":54},{"k":"Pathways","r":81},{"k":"Pathways","r":109},{"k":"Pathways","r":137},{"k":"Pathways","r":164},{"k":"Pathways","r":192},{"k":"Pathways","r":219},{"k":"Pathways","r":247},{"k":"Pathways","r":275},{"k":"Pathways","r":302},{"k":"Pathways","r":330},{"k":"Pathways","r":358},{"k":"Pathways","r":385},{"k":"Pathways","r":413},{"k":"Pathways","r":441},{"k":"Pathways","r":468},{"k":"Pathways","r":496},{"k":"Pathways","r":579},{"k":"Pathways","r":607},{"k":"Pathways","r":634},{"k":"Pathways","r":662},{"k":"Pathways","r":690},{"k":"Pathways","r":717},{"k":"Pathways","r":745},{"k":"Pathways","r":772},{"k":"Pathways","r":800},{"k":"Pathways","r":828},{"k":"Pathways","r":927},{"k":"Pathways","r":966},{"k":"Pathways","r":993},{"k":"Pathways","r":1038},{"k":"Pathways","r":1076},{"k":"Pathways","r":1104},{"k":"Pathways","r":1159},{"k":"Pathways","r":1204},{"k":"Pathways","r":1226},{"k":"Pathways","r":1281},{"k":"Pathways","r":1325},{"k":"Pathways","r":1370},{"k":"Pathways","r":1436},{"k":"Pathways","r":1464},{"k":"Pathways","r":1558},{"k":"Pathways","r":1602},{"k":"Pathways","r":1629},{"k":"Pathways","r":1657},{"k":"Pathways","r":1757},{"k":"Pathways","r":1812},{"k":"Pathways","r":1889},{"k":"Pathways","r":1934},{"k":"Pathways","r":2033},{"k":"Pathways","r":2155},{"k":"Pathways","r":2182},{"k":"Pathways","r":2210},{"k":"Pathways","r":2293},{"k":"Pathways","r":2459},{"k":"Pathways","r":2569},{"k":"Pathways","r":2719},{"k":"Pathways","r":2763},{"k":"Pathways","r":2818},{"k":"Pathways","r":2862},{"k":"Pathways","r":2901},{"k":"Pathways","r":2940},{"k":"Pathways","r":2984},{"k":"Pathways","r":3028},{"k":"Pathways","r":3067},{"k":"Pathways","r":3139},{"k":"Pathways","r":3233},{"k":"Pathways","r":3271},{"k":"Pathways","r":3316},{"k":"Pathways","r":3399},{"k":"Pathways","r":3482},{"k":"Pathways","r":3648},{"k":"Pathways","r":3675},{"k":"Pathways","r":3703},{"k":"Pathways","r":3913},{"k":"Pathways","r":4157},{"k":"Pathways","r":4201},{"k":"Pathways","r":4422},{"k":"Pathways","r":4450},{"k":"Pathways","r":4477},{"k":"Pathways","r":4505},{"k":"Pathways","r":4544},{"k":"Pathways","r":4588},{"k":"Pathways","r":4632},{"k":"Pathways","r":4687},{"k":"Pathways","r":4781},{"k":"Pathways","r":4809},{"k":"Pathways","r":4837},{"k":"Pathways","r":4864},{"k":"Pathways","r":4892},{"k":"Pathways","r":4919},{"k":"Pathways","r":4947},{"k":"Pathways","r":4975},{"k":"Pathways","r":5096},{"k":"Pathways","r":5140},{"k":"Pathways","r":5207},{"k":"Pathways","r":5279},{"k":"Pathways","r":5361},{"k":"Pathways","r":5417},{"k":"Pathways","r":5461},{"k":"Pathways","r":5500},{"k":"Pathways","r":5582},{"k":"Pathways","r":5649},{"k":"Pathways","r":5682},{"k":"Pathways","r":5720},{"k":"Pathways","r":5760},{"k":"Pathways","r":5793},{"k":"Pathways","r":5831},{"k":"Pathways","r":5870},{"k":"Pathways","r":5914},{"k":"Pathways","r":5997},{"k":"Pathways","r":6136},{"k":"Pathways","r":6180},{"k":"Pathways","r":6219},{"k":"Pathways","r":6257},{"k":"Pathways","r":6290},{"k":"Pathways","r":6412},{"k":"Pathways","r":6511},{"k":"Pathways","r":6606},{"k":"Pathways","r":6788},{"k":"Pathways","r":6965},{"k":"Pathways","r":7009},{"k":"Pathways","r":7048},{"k":"Pathways","r":7086},{"k":"Pathways","r":7131},{"k":"Pathways","r":7186},{"k":"Pathways","r":7230},{"k":"Pathways","r":7269},{"k":"Pathways","r":7352},{"k":"Pathways","r":7396},{"k":"Pathways","r":7491},{"k":"Pathways","r":7574},{"k":"Pathways","r":7673},{"k":"Pathways","r":7905},{"k":"Pathways","r":7950},{"k":"Pathways","r":7988},{"k":"Pathways","r":8209}
 ],
 "rugF": [
  {"k":"Drug","r":0},{"k":"Drug","r":879},{"k":"Drug","r":2433},{"k":"Drug","r":2760},{"k":"Drug","r":4379},{"k":"Drug","r":5131},{"k":"Drug","r":5213},{"k":"Drug","r":5459},{"k":"Drug","r":5742},{"k":"Drug","r":5928},{"k":"Drug","r":6287},{"k":"Drug","r":6429},{"k":"Drug","r":6876},{"k":"Drug","r":7094},{"k":"Drug","r":7122},{"k":"Drug","r":7149},{"k":"Drug","r":7176},{"k":"Drug","r":7214},{"k":"Drug","r":7394},{"k":"Drug","r":7421},{"k":"Drug","r":7465},{"k":"Drug","r":7503},{"k":"Drug","r":7574},{"k":"Drug","r":7596},{"k":"Drug","r":7667},{"k":"Drug","r":7694},{"k":"Drug","r":7776},{"k":"Drug","r":7939},{"k":"Drug","r":7966},{"k":"Drug","r":7993},{"k":"Drug","r":8048},{"k":"Drug","r":8103},{"k":"Drug","r":8130},{"k":"Drug","r":8184},{"k":"Drug","r":8212},{"k":"Drug","r":8266},{"k":"Drug","r":8321},{"k":"Drug","r":8348},
  {"k":"Xeno","r":879},{"k":"Xeno","r":1424},{"k":"Xeno","r":2433},{"k":"Xeno","r":2760},{"k":"Xeno","r":4379},{"k":"Xeno","r":5131},{"k":"Xeno","r":5213},{"k":"Xeno","r":5459},{"k":"Xeno","r":5540},{"k":"Xeno","r":5742},{"k":"Xeno","r":5928},{"k":"Xeno","r":6287},{"k":"Xeno","r":6429},{"k":"Xeno","r":6876},{"k":"Xeno","r":7105},{"k":"Xeno","r":7138},{"k":"Xeno","r":7176},{"k":"Xeno","r":7214},{"k":"Xeno","r":7394},{"k":"Xeno","r":7432},{"k":"Xeno","r":7476},{"k":"Xeno","r":7520},{"k":"Xeno","r":7596},{"k":"Xeno","r":7694},{"k":"Xeno","r":7792},{"k":"Xeno","r":7939},{"k":"Xeno","r":7977},{"k":"Xeno","r":8021},{"k":"Xeno","r":8103},{"k":"Xeno","r":8184},{"k":"Xeno","r":8228},{"k":"Xeno","r":8321},
  {"k":"Tyrosine","r":1195},{"k":"Tyrosine","r":1446},{"k":"Tyrosine","r":2433},{"k":"Tyrosine","r":3752},{"k":"Tyrosine","r":3888},{"k":"Tyrosine","r":4395},{"k":"Tyrosine","r":4412},{"k":"Tyrosine","r":4630},{"k":"Tyrosine","r":4652},{"k":"Tyrosine","r":4685},{"k":"Tyrosine","r":5213},{"k":"Tyrosine","r":5470},{"k":"Tyrosine","r":5742},{"k":"Tyrosine","r":6429},{"k":"Tyrosine","r":6745},{"k":"Tyrosine","r":7149},{"k":"Tyrosine","r":7220},{"k":"Tyrosine","r":7411},{"k":"Tyrosine","r":7596},{"k":"Tyrosine","r":7629},{"k":"Tyrosine","r":7722},{"k":"Tyrosine","r":7956},{"k":"Tyrosine","r":8065},{"k":"Tyrosine","r":8103},{"k":"Tyrosine","r":8130},{"k":"Tyrosine","r":8293},{"k":"Tyrosine","r":8321},
  {"k":"Retinol","r":704},{"k":"Retinol","r":966},{"k":"Retinol","r":2433},{"k":"Retinol","r":2607},{"k":"Retinol","r":3474},{"k":"Retinol","r":3861},{"k":"Retinol","r":4303},{"k":"Retinol","r":4379},{"k":"Retinol","r":5131},{"k":"Retinol","r":5459},{"k":"Retinol","r":5540},{"k":"Retinol","r":6287},{"k":"Retinol","r":6418},{"k":"Retinol","r":6538},{"k":"Retinol","r":7050},{"k":"Retinol","r":7312},{"k":"Retinol","r":7339},{"k":"Retinol","r":7367},{"k":"Retinol","r":7432},{"k":"Retinol","r":7465},{"k":"Retinol","r":7503},{"k":"Retinol","r":7596},{"k":"Retinol","r":7667},{"k":"Retinol","r":7857},{"k":"Retinol","r":7939},{"k":"Retinol","r":8239},{"k":"Retinol","r":8266},{"k":"Retinol","r":8293},{"k":"Retinol","r":8321},
  {"k":"Tight","r":345},{"k":"Tight","r":421},{"k":"Tight","r":606},{"k":"Tight","r":633},{"k":"Tight","r":661},{"k":"Tight","r":688},{"k":"Tight","r":922},{"k":"Tight","r":1042},{"k":"Tight","r":1108},{"k":"Tight","r":1560},{"k":"Tight","r":1795},{"k":"Tight","r":1833},{"k":"Tight","r":1926},{"k":"Tight","r":1997},{"k":"Tight","r":2199},{"k":"Tight","r":2269},{"k":"Tight","r":2433},{"k":"Tight","r":2487},{"k":"Tight","r":2596},{"k":"Tight","r":2852},{"k":"Tight","r":2885},{"k":"Tight","r":2923},{"k":"Tight","r":2978},{"k":"Tight","r":3158},{"k":"Tight","r":3267},{"k":"Tight","r":3305},{"k":"Tight","r":3485},{"k":"Tight","r":3507},{"k":"Tight","r":4303},{"k":"Tight","r":4433},{"k":"Tight","r":4521},{"k":"Tight","r":4543},{"k":"Tight","r":4565},{"k":"Tight","r":4832},{"k":"Tight","r":4870},{"k":"Tight","r":4913},{"k":"Tight","r":4957},{"k":"Tight","r":5066},{"k":"Tight","r":5131},{"k":"Tight","r":5197},{"k":"Tight","r":5241},{"k":"Tight","r":5295},{"k":"Tight","r":5459},{"k":"Tight","r":5513},{"k":"Tight","r":5568},{"k":"Tight","r":5611},{"k":"Tight","r":5884},{"k":"Tight","r":6167},{"k":"Tight","r":6195},{"k":"Tight","r":6222},{"k":"Tight","r":6249},{"k":"Tight","r":6375},{"k":"Tight","r":6549},{"k":"Tight","r":6713},{"k":"Tight","r":6778},{"k":"Tight","r":7029},{"k":"Tight","r":7067},{"k":"Tight","r":7149},{"k":"Tight","r":7230},{"k":"Tight","r":7258},{"k":"Tight","r":7411},{"k":"Tight","r":7432},{"k":"Tight","r":7465},{"k":"Tight","r":7487},{"k":"Tight","r":7558},{"k":"Tight","r":7585},{"k":"Tight","r":7629},{"k":"Tight","r":7694},{"k":"Tight","r":7738},{"k":"Tight","r":7760},{"k":"Tight","r":7792},{"k":"Tight","r":7814},{"k":"Tight","r":7847},{"k":"Tight","r":7885},{"k":"Tight","r":7912},{"k":"Tight","r":7956},{"k":"Tight","r":8021},{"k":"Tight","r":8048},{"k":"Tight","r":8103},{"k":"Tight","r":8141},{"k":"Tight","r":8184},{"k":"Tight","r":8239},{"k":"Tight","r":8282},{"k":"Tight","r":8321},{"k":"Tight","r":8348}
 ],
 "rank": [
  {"r":0,"m":2.0},{"r":20,"m":1.6},{"r":60,"m":1.3},{"r":120,"m":1.1},{"r":200,"m":0.95},{"r":350,"m":0.78},{"r":600,"m":0.62},{"r":1000,"m":0.47},{"r":1500,"m":0.36},{"r":2000,"m":0.27},{"r":2500,"m":0.2},{"r":3000,"m":0.14},{"r":3500,"m":0.08},{"r":4000,"m":0.03},{"r":4300,"m":0},{"r":4800,"m":-0.05},{"r":5500,"m":-0.12},{"r":6000,"m":-0.18},{"r":6500,"m":-0.25},{"r":7000,"m":-0.34},{"r":7400,"m":-0.45},{"r":7700,"m":-0.6},{"r":7950,"m":-0.8},{"r":8150,"m":-1.05},{"r":8280,"m":-1.4},{"r":8350,"m":-1.8},{"r":8392,"m":-2.3}
 ]
},
"spacing": 64,
"align": "each",
"resolve": {"scale": {"x": "independent", "y": "independent", "color": "independent", "size": "independent"}},
"vconcat": [
 {
  "hconcat": [
   {"width": 53, "height": 1, "title": {"text": "A", "anchor": "start", "frame": "group", "fontSize": 39, "color": "#231815", "offset": 35}, "data": {"name": "blank"}, "mark": {"type": "text"}, "encoding": {"text": {"field": "t"}}},
   {
    "width": 396, "height": 843,
    "resolve": {"scale": {"x": "independent", "y": "independent"}},
    "layer": [
     {"data": {"name": "goA"}, "transform": [{"filter": "datum.ont == 'BP'"}],
      "mark": {"type": "circle", "opacity": 1, "stroke": "#000000", "strokeWidth": 1.2},
      "encoding": {
       "x": {"field": "ratio", "type": "quantitative", "scale": {"domain": [0.0697, 0.234], "nice": false, "zero": false}, "axis": {"orient": "bottom", "values": [0.075, 0.1, 0.125, 0.15, 0.175, 0.2, 0.225], "labels": false, "ticks": false, "title": null, "grid": true, "gridColor": "#EBEBEB", "gridWidth": {"condition": {"test": "round(datum.value*1000) % 50 != 0", "value": 1}, "value": 2}}},
       "y": {"field": "desc", "type": "nominal", "sort": null, "scale": {"type": "point", "padding": 0.6, "range": [0, 273]}, "axis": {"orient": "left", "title": null, "labelFontSize": 22.5, "labelLimit": 800, "tickSize": 5, "labelPadding": 4, "grid": true, "gridColor": "#EBEBEB", "gridWidth": 2}},
       "color": {"field": "padj", "type": "quantitative", "scale": {"domain": [0.0045, 0], "range": ["#3A7DBF", "#DB5F5F"], "interpolate": "rgb"}, "legend": {"title": "p.adjust", "orient": "none", "legendX": 459, "legendY": 163, "values": [0.001, 0.002, 0.003, 0.004], "format": ".3f", "direction": "vertical", "gradientLength": 164, "gradientThickness": 25, "titleFontSize": 20.8, "labelFontSize": 17.6, "titlePadding": 8}},
       "size": {"field": "count", "type": "quantitative", "scale": {"type": "sqrt", "domain": [3, 9], "range": [147, 830]}, "legend": {"title": "Count", "orient": "none", "legendX": 459, "legendY": 397, "values": [3, 4, 5, 6, 7, 8, 9], "titleFontSize": 20.8, "labelFontSize": 17.6, "titlePadding": 8, "rowPadding": 3, "symbolFillColor": "#FFFFFF", "symbolStrokeColor": "#000000", "symbolStrokeWidth": 1.3}}
      }},
     {"data": {"name": "goA"}, "transform": [{"filter": "datum.ont == 'CC'"}],
      "mark": {"type": "circle", "opacity": 1, "stroke": "#000000", "strokeWidth": 1.2},
      "encoding": {
       "x": {"field": "ratio", "type": "quantitative", "scale": {"domain": [0.0697, 0.234], "nice": false, "zero": false}, "axis": {"orient": "bottom", "values": [0.075, 0.1, 0.125, 0.15, 0.175, 0.2, 0.225], "labels": false, "ticks": false, "title": null, "grid": true, "gridColor": "#EBEBEB", "gridWidth": {"condition": {"test": "round(datum.value*1000) % 50 != 0", "value": 1}, "value": 2}}},
       "y": {"field": "desc", "type": "nominal", "sort": null, "scale": {"type": "point", "padding": 0.6, "range": [285, 558]}, "axis": {"orient": "left", "title": null, "labelFontSize": 22.5, "labelLimit": 800, "tickSize": 5, "labelPadding": 4, "grid": true, "gridColor": "#EBEBEB", "gridWidth": 2}},
       "color": {"field": "padj", "type": "quantitative"},
       "size": {"field": "count", "type": "quantitative"}
      }},
     {"data": {"name": "goA"}, "transform": [{"filter": "datum.ont == 'MF'"}],
      "mark": {"type": "circle", "opacity": 1, "stroke": "#000000", "strokeWidth": 1.2},
      "encoding": {
       "x": {"field": "ratio", "type": "quantitative", "scale": {"domain": [0.0697, 0.234], "nice": false, "zero": false}, "axis": {"orient": "bottom", "values": [0.075, 0.1, 0.125, 0.15, 0.175, 0.2, 0.225], "labelExpr": "round(datum.value*1000) % 50 == 0 ? format(datum.value, '.2f') : ''", "labelFontSize": 22.5, "title": "GeneRatio", "titleFontSize": 22.5, "titlePadding": 2, "tickSize": 5, "labelPadding": 2, "tickColor": {"condition": {"test": "round(datum.value*1000) % 50 != 0", "value": "transparent"}, "value": "#333333"}, "grid": true, "gridColor": "#EBEBEB", "gridWidth": {"condition": {"test": "round(datum.value*1000) % 50 != 0", "value": 1}, "value": 2}}},
       "y": {"field": "desc", "type": "nominal", "sort": null, "scale": {"type": "point", "padding": 0.6, "range": [570, 843]}, "axis": {"orient": "left", "title": null, "labelFontSize": 22.5, "labelLimit": 800, "tickSize": 5, "labelPadding": 4, "grid": true, "gridColor": "#EBEBEB", "gridWidth": 2}},
       "color": {"field": "padj", "type": "quantitative"},
       "size": {"field": "count", "type": "quantitative"}
      }},
     {"data": {"name": "ontA"},
      "mark": {"type": "rect", "fill": "transparent", "stroke": "#333333", "strokeWidth": 1.3},
      "encoding": {
       "x": {"datum": 0.0697, "type": "quantitative", "scale": {"domain": [0.0697, 0.234], "nice": false, "zero": false}, "axis": null},
       "x2": {"datum": 0.234},
       "y": {"field": "ont", "type": "nominal", "sort": null, "scale": {"type": "band", "paddingInner": 0.0421, "paddingOuter": 0, "range": [0, 843]}, "axis": null}
      }},
     {"data": {"name": "ontA"},
      "mark": {"type": "rect", "fill": "#D9D9D9", "stroke": "#333333", "strokeWidth": 1.3},
      "encoding": {
       "x": {"datum": 0, "type": "quantitative", "scale": {"domain": [0, 1], "range": [396, 429], "nice": false, "zero": false}, "axis": null},
       "x2": {"datum": 1},
       "y": {"field": "ont", "type": "nominal", "sort": null, "scale": {"type": "band", "paddingInner": 0.0421, "paddingOuter": 0, "range": [0, 843]}, "axis": null}
      }},
     {"data": {"name": "ontA"},
      "mark": {"type": "text", "angle": 90, "fontSize": 18, "color": "#1A1A1A"},
      "encoding": {
       "x": {"datum": 0.5, "type": "quantitative", "scale": {"domain": [0, 1], "range": [396, 429], "nice": false, "zero": false}, "axis": null},
       "y": {"field": "ont", "type": "nominal", "sort": null, "scale": {"type": "band", "paddingInner": 0.0421, "paddingOuter": 0, "range": [0, 843]}, "axis": null},
       "text": {"field": "ont"}
      }}
    ]
   },
   {"width": 161, "height": 1, "data": {"name": "blank"}, "mark": {"type": "text"}, "encoding": {"text": {"field": "t"}}},
   {
    "width": 940, "height": 843,
    "title": {"text": "B", "anchor": "start", "frame": "group", "fontSize": 39, "color": "#231815", "offset": 35, "dx": -36},
    "layer": [
     {"data": {"name": "edgesB"},
      "transform": [
       {"lookup": "g", "from": {"data": {"name": "nodesB"}, "key": "name", "fields": ["x", "y"]}, "as": ["gx", "gy"]},
       {"lookup": "c", "from": {"data": {"name": "nodesB"}, "key": "name", "fields": ["x", "y"]}, "as": ["cx", "cy"]}
      ],
      "mark": {"type": "rule", "color": "#B5B5B5", "strokeWidth": 1.6},
      "encoding": {
       "x": {"field": "gx", "type": "quantitative", "scale": {"domain": [40, 980], "nice": false, "zero": false}, "axis": null},
       "y": {"field": "gy", "type": "quantitative", "scale": {"domain": [84, 927], "nice": false, "zero": false, "reverse": true}, "axis": null},
       "x2": {"field": "cx"}, "y2": {"field": "cy"}
      }},
     {"data": {"name": "nodesB"}, "transform": [{"filter": "datum.type == 'c'"}],
      "mark": {"type": "circle", "color": "#E2BE8C", "opacity": 1},
      "encoding": {
       "x": {"field": "x", "type": "quantitative"}, "y": {"field": "y", "type": "quantitative"},
       "size": {"field": "size", "type": "quantitative", "scale": {"type": "sqrt", "domain": [3, 8], "range": [154, 908]}, "legend": {"title": "size", "orient": "none", "legendX": 978, "legendY": 210, "values": [3, 4, 5, 6, 7, 8], "titleFontSize": 20.6, "labelFontSize": 17.6, "titlePadding": 8, "rowPadding": 3, "symbolFillColor": "#000000", "symbolStrokeColor": "#000000", "encoding": {"symbols": {"fill": {"value": "#000000"}, "stroke": {"value": "#000000"}}}}}
      }},
     {"data": {"name": "nodesB"}, "transform": [{"filter": "datum.type == 'g'"}],
      "mark": {"type": "circle", "size": 160, "opacity": 1},
      "encoding": {
       "x": {"field": "x", "type": "quantitative"}, "y": {"field": "y", "type": "quantitative"},
       "color": {"field": "fc", "type": "quantitative", "scale": {"domain": [0.4, 6.34], "range": ["#F4F6FA", "#3373B0"], "interpolate": "rgb"}, "legend": {"title": "fold change", "orient": "none", "legendX": 978, "legendY": 470, "values": [2, 4, 6], "direction": "vertical", "gradientLength": 161, "gradientThickness": 31, "titleFontSize": 20.6, "labelFontSize": 17.6, "titlePadding": 8}}
      }},
     {"data": {"name": "nodesB"},
      "mark": {"type": "text", "fontSize": 26, "color": "#000000"},
      "encoding": {"x": {"field": "lx", "type": "quantitative"}, "y": {"field": "ly", "type": "quantitative"}, "text": {"field": "name"}}}
    ]
   }
  ],
  "spacing": 0, "align": "each",
  "resolve": {"scale": {"x": "independent", "y": "independent", "color": "independent", "size": "independent"}}
 },
 {
  "vconcat": [
   {
    "hconcat": [
     {"width": 51, "height": 1, "title": {"text": "C", "anchor": "start", "frame": "group", "fontSize": 39, "color": "#231815", "offset": 35}, "data": {"name": "blank"}, "mark": {"type": "text"}, "encoding": {"text": {"field": "t"}}},
     {"width": 377, "height": 839, "view": {"stroke": "#333333", "strokeWidth": 1.3},
      "data": {"name": "goC"},
      "mark": {"type": "circle", "opacity": 1, "stroke": "#000000", "strokeWidth": 1.2},
      "encoding": {
       "x": {"field": "ratio", "type": "quantitative", "scale": {"domain": [0.076, 0.1638], "nice": false, "zero": false}, "axis": {"values": [0.08, 0.09, 0.1, 0.11, 0.12, 0.13, 0.14, 0.15, 0.16], "labelExpr": "round(datum.value*100) % 2 == 0 ? format(datum.value, '.2f') : ''", "labelFontSize": 22.5, "title": "GeneRatio", "titleFontSize": 22.5, "titlePadding": 2, "tickSize": 5, "labelPadding": 2, "tickColor": {"condition": {"test": "round(datum.value*100) % 2 != 0", "value": "transparent"}, "value": "#333333"}, "grid": true, "gridColor": "#EBEBEB", "gridWidth": {"condition": {"test": "round(datum.value*100) % 2 != 0", "value": 1}, "value": 2}}},
       "y": {"field": "desc", "type": "nominal", "sort": null, "scale": {"type": "point", "padding": 0.6}, "axis": {"title": null, "labelFontSize": 22.5, "labelLimit": 800, "tickSize": 5, "labelPadding": 4, "grid": true, "gridColor": "#EBEBEB", "gridWidth": 2}},
       "color": {"field": "padj", "type": "quantitative", "scale": {"domain": [0.0476, 0.0145], "range": ["#3A7DBF", "#DB5F5F"], "interpolate": "rgb"}, "legend": {"title": "p.adjust", "orient": "none", "legendX": 408, "legendY": 201, "values": [0.02, 0.03, 0.04], "format": ".2f", "direction": "vertical", "gradientLength": 162, "gradientThickness": 25, "titleFontSize": 20.8, "labelFontSize": 17.6, "titlePadding": 8}},
       "size": {"field": "count", "type": "quantitative", "scale": {"type": "sqrt", "domain": [2, 4], "range": [165, 908]}, "legend": {"title": "Count", "orient": "none", "legendX": 408, "legendY": 434, "values": [2, 2.5, 3, 3.5, 4], "format": ".1f", "titleFontSize": 20.8, "labelFontSize": 17.6, "titlePadding": 8, "rowPadding": 3, "symbolFillColor": "#FFFFFF", "symbolStrokeColor": "#000000", "symbolStrokeWidth": 1.3}}
      }},
     {"width": 150, "height": 1, "data": {"name": "blank"}, "mark": {"type": "text"}, "encoding": {"text": {"field": "t"}}},
     {
      "width": 940, "height": 839,
      "title": {"text": "D", "anchor": "start", "frame": "group", "fontSize": 39, "color": "#231815", "offset": 35, "dx": -36},
      "layer": [
       {"data": {"name": "edgesD"},
        "transform": [
         {"lookup": "g", "from": {"data": {"name": "nodesD"}, "key": "name", "fields": ["x", "y"]}, "as": ["gx", "gy"]},
         {"lookup": "c", "from": {"data": {"name": "nodesD"}, "key": "name", "fields": ["x", "y"]}, "as": ["cx", "cy"]}
        ],
        "mark": {"type": "rule", "color": "#B5B5B5", "strokeWidth": 1.6},
        "encoding": {
         "x": {"field": "gx", "type": "quantitative", "scale": {"domain": [40, 980], "nice": false, "zero": false}, "axis": null},
         "y": {"field": "gy", "type": "quantitative", "scale": {"domain": [84, 923], "nice": false, "zero": false, "reverse": true}, "axis": null},
         "x2": {"field": "cx"}, "y2": {"field": "cy"}
        }},
       {"data": {"name": "nodesD"}, "transform": [{"filter": "datum.type == 'c'"}],
        "mark": {"type": "circle", "color": "#E2BE8C", "opacity": 1},
        "encoding": {
         "x": {"field": "x", "type": "quantitative"}, "y": {"field": "y", "type": "quantitative"},
         "size": {"field": "size", "type": "quantitative", "scale": {"type": "sqrt", "domain": [2, 4], "range": [177, 908]}, "legend": {"title": "size", "orient": "none", "legendX": 978, "legendY": 225, "values": [2, 2.5, 3, 3.5, 4], "format": ".1f", "titleFontSize": 20.6, "labelFontSize": 17.6, "titlePadding": 8, "rowPadding": 3, "symbolFillColor": "#000000", "symbolStrokeColor": "#000000", "encoding": {"symbols": {"fill": {"value": "#000000"}, "stroke": {"value": "#000000"}}}}}
        }},
       {"data": {"name": "nodesD"}, "transform": [{"filter": "datum.type == 'g'"}],
        "mark": {"type": "circle", "size": 570, "opacity": 1},
        "encoding": {
         "x": {"field": "x", "type": "quantitative"}, "y": {"field": "y", "type": "quantitative"},
         "color": {"field": "fc", "type": "quantitative", "scale": {"domain": [0.4, 6.34], "range": ["#F4F6FA", "#3373B0"], "interpolate": "rgb"}, "legend": {"title": "fold change", "orient": "none", "legendX": 978, "legendY": 451, "values": [2, 4, 6], "direction": "vertical", "gradientLength": 162, "gradientThickness": 31, "titleFontSize": 20.6, "labelFontSize": 17.6, "titlePadding": 8}}
        }},
       {"data": {"name": "nodesD"},
        "mark": {"type": "text", "fontSize": 26, "color": "#000000"},
        "encoding": {"x": {"field": "lx", "type": "quantitative"}, "y": {"field": "ly", "type": "quantitative"}, "text": {"field": "name"}}}
      ]
     }
    ],
    "spacing": 0, "align": "each",
    "resolve": {"scale": {"x": "independent", "y": "independent", "color": "independent", "size": "independent"}}
   },
   {
    "hconcat": [
     {"width": 47, "height": 1, "title": {"text": "E", "anchor": "start", "frame": "group", "fontSize": 39, "color": "#231815", "offset": 4, "dx": 2}, "data": {"name": "blank"}, "mark": {"type": "text"}, "encoding": {"text": {"field": "t"}}},
     {
      "vconcat": [
       {"width": 600, "height": 324, "view": {"stroke": "#000000", "strokeWidth": 1.5},
        "layer": [
         {"data": {"values": [{"z": 0}]}, "mark": {"type": "rule", "color": "#999999", "strokeDash": [12, 12], "strokeWidth": 2.5},
          "encoding": {"y": {"field": "z", "type": "quantitative", "scale": {"domain": [-0.084, 0.785], "nice": false, "zero": false}}}},
         {"data": {"name": "esE"}, "mark": {"type": "line", "strokeWidth": 2.8},
          "encoding": {
           "x": {"field": "r", "type": "quantitative", "scale": {"domain": [0, 8392], "nice": false, "zero": false}, "axis": null},
           "y": {"field": "v", "type": "quantitative", "axis": {"values": [0, 0.2, 0.4, 0.6], "format": ".1f", "title": "Enrichment Score", "labelFontSize": 25.5, "titleFontSize": 25.5, "tickSize": 7, "tickWidth": 2, "tickColor": "#000000", "labelColor": "#000000", "labelPadding": 4, "titlePadding": 14}},
           "color": {"field": "s", "type": "nominal", "scale": {"domain": ["Ecm Receptor Interaction", "Cell Cycle", "Focal Adhesion", "Cytokine Cytokine Receptor Interaction", "Pathways In Cancer"], "range": ["#0072B5", "#BC3C29", "#E18727", "#20854E", "#7876B1"]}, "legend": {"title": null, "orient": "none", "legendX": 612, "legendY": 104, "symbolType": "stroke", "symbolStrokeWidth": 3.5, "symbolSize": 400, "labelFontSize": 22.4, "labelColor": "#000000", "rowPadding": 3.6, "labelLimit": 900}}
          }}
        ]},
       {"width": 600, "height": 327, "view": {"stroke": "#000000", "strokeWidth": 2.5},
        "resolve": {"scale": {"y": "independent", "color": "independent"}},
        "layer": [
         {"data": {"name": "rugE"},
          "mark": {"type": "tick", "thickness": 1.8, "size": 30.6, "opacity": 1},
          "encoding": {
           "x": {"field": "r", "type": "quantitative", "scale": {"domain": [0, 8392], "nice": false, "zero": false}, "axis": {"values": [0, 2000, 4000, 6000, 8000], "format": "d", "title": "Rank in Ordered Dataset", "labelFontSize": 25.5, "titleFontSize": 25.5, "tickSize": 7, "tickWidth": 2, "tickColor": "#000000", "labelColor": "#000000", "labelPadding": 4, "titlePadding": 6}},
           "y": {"field": "k", "type": "nominal", "sort": ["Ecm", "Cell", "Focal", "Cytokine", "Pathways"], "scale": {"type": "band", "paddingInner": 0, "paddingOuter": 0, "range": [0, 153]}, "axis": null},
           "color": {"field": "k", "type": "nominal", "scale": {"domain": ["Ecm", "Cell", "Focal", "Cytokine", "Pathways"], "range": ["#0072B5", "#BC3C29", "#E18727", "#20854E", "#7876B1"]}, "legend": null}
          }},
         {"data": {"name": "rank"},
          "mark": {"type": "area", "color": "#BEBEBE"},
          "encoding": {
           "x": {"field": "r", "type": "quantitative", "scale": {"domain": [0, 8392], "nice": false, "zero": false}, "axis": {"values": [0, 2000, 4000, 6000, 8000], "format": "d", "title": "Rank in Ordered Dataset", "labelFontSize": 25.5, "titleFontSize": 25.5, "tickSize": 7, "tickWidth": 2, "tickColor": "#000000", "labelColor": "#000000", "labelPadding": 4, "titlePadding": 6}},
           "y": {"field": "m", "type": "quantitative", "scale": {"domain": [-4.75, 5.79], "nice": false, "zero": false, "range": [327, 153]}, "axis": {"values": [-2.5, 0, 2.5, 5], "labelExpr": "replace(format(datum.value, '.1f'), '−', '-')", "title": "Ranked list metric", "labelFontSize": 25.5, "titleFontSize": 25.5, "tickSize": 7, "tickWidth": 2, "tickColor": "#000000", "labelColor": "#000000", "labelPadding": 4, "titlePadding": 14}},
           "y2": {"datum": 0}
          }},
         {"data": {"name": "blank"},
          "mark": {"type": "rule", "color": "#000000", "strokeWidth": 2.5},
          "encoding": {"y": {"datum": 5.79, "type": "quantitative", "scale": {"domain": [-4.75, 5.79], "nice": false, "zero": false, "range": [327, 153]}, "axis": null}}}
        ]}
      ],
      "spacing": 0, "align": "each",
      "resolve": {"scale": {"x": "independent", "y": "independent", "color": "independent", "size": "independent"}}
     },
     {"width": 90.5, "height": 1, "data": {"name": "blank"}, "mark": {"type": "text"}, "encoding": {"text": {"field": "t"}}},
     {
      "vconcat": [
       {"width": 613.5, "height": 324, "view": {"stroke": "#000000", "strokeWidth": 1.5},
        "title": {"text": "F", "anchor": "start", "frame": "group", "fontSize": 39, "color": "#231815", "offset": 4, "dx": -132},
        "layer": [
         {"data": {"values": [{"z": 0}]}, "mark": {"type": "rule", "color": "#999999", "strokeDash": [12, 12], "strokeWidth": 2.5},
          "encoding": {"y": {"field": "z", "type": "quantitative", "scale": {"domain": [-0.8, 0.069], "nice": false, "zero": false}}}},
         {"data": {"name": "esF"}, "mark": {"type": "line", "strokeWidth": 2.8},
          "encoding": {
           "x": {"field": "r", "type": "quantitative", "scale": {"domain": [0, 8392], "nice": false, "zero": false}, "axis": null},
           "y": {"field": "v", "type": "quantitative", "axis": {"values": [-0.8, -0.6, -0.4, -0.2, 0], "labelExpr": "replace(format(datum.value, '.1f'), '−', '-')", "title": "Enrichment Score", "labelFontSize": 25.5, "titleFontSize": 25.5, "tickSize": 7, "tickWidth": 2, "tickColor": "#000000", "labelColor": "#000000", "labelPadding": 4, "titlePadding": 14}},
           "color": {"field": "s", "type": "nominal", "scale": {"domain": ["Drug Metabolism Cytochrome P450", "Metabolism of Xenobiotics By Cytochrome P450", "Tyrosine Metabolism", "Retinol Metabolism", "Tight Junction"], "range": ["#0072B5", "#BC3C29", "#E18727", "#20854E", "#7876B1"]}, "legend": {"title": null, "orient": "none", "legendX": 627, "legendY": 104, "symbolType": "stroke", "symbolStrokeWidth": 3.5, "symbolSize": 400, "labelFontSize": 22.4, "labelColor": "#000000", "rowPadding": 3.6, "labelLimit": 900}}
          }}
        ]},
       {"width": 613.5, "height": 327, "view": {"stroke": "#000000", "strokeWidth": 2.5},
        "resolve": {"scale": {"y": "independent", "color": "independent"}},
        "layer": [
         {"data": {"name": "rugF"},
          "mark": {"type": "tick", "thickness": 1.8, "size": 30.6, "opacity": 1},
          "encoding": {
           "x": {"field": "r", "type": "quantitative", "scale": {"domain": [0, 8392], "nice": false, "zero": false}, "axis": {"values": [0, 2000, 4000, 6000, 8000], "format": "d", "title": "Rank in Ordered Dataset", "labelFontSize": 25.5, "titleFontSize": 25.5, "tickSize": 7, "tickWidth": 2, "tickColor": "#000000", "labelColor": "#000000", "labelPadding": 4, "titlePadding": 6}},
           "y": {"field": "k", "type": "nominal", "sort": ["Drug", "Xeno", "Tyrosine", "Retinol", "Tight"], "scale": {"type": "band", "paddingInner": 0, "paddingOuter": 0, "range": [0, 153]}, "axis": null},
           "color": {"field": "k", "type": "nominal", "scale": {"domain": ["Drug", "Xeno", "Tyrosine", "Retinol", "Tight"], "range": ["#0072B5", "#BC3C29", "#E18727", "#20854E", "#7876B1"]}, "legend": null}
          }},
         {"data": {"name": "rank"},
          "mark": {"type": "area", "color": "#BEBEBE"},
          "encoding": {
           "x": {"field": "r", "type": "quantitative", "scale": {"domain": [0, 8392], "nice": false, "zero": false}, "axis": {"values": [0, 2000, 4000, 6000, 8000], "format": "d", "title": "Rank in Ordered Dataset", "labelFontSize": 25.5, "titleFontSize": 25.5, "tickSize": 7, "tickWidth": 2, "tickColor": "#000000", "labelColor": "#000000", "labelPadding": 4, "titlePadding": 6}},
           "y": {"field": "m", "type": "quantitative", "scale": {"domain": [-4.75, 5.79], "nice": false, "zero": false, "range": [327, 153]}, "axis": {"values": [-2.5, 0, 2.5, 5], "labelExpr": "replace(format(datum.value, '.1f'), '−', '-')", "title": "Ranked list metric", "labelFontSize": 25.5, "titleFontSize": 25.5, "tickSize": 7, "tickWidth": 2, "tickColor": "#000000", "labelColor": "#000000", "labelPadding": 4, "titlePadding": 14}},
           "y2": {"datum": 0}
          }},
         {"data": {"name": "blank"},
          "mark": {"type": "rule", "color": "#000000", "strokeWidth": 2.5},
          "encoding": {"y": {"datum": 5.79, "type": "quantitative", "scale": {"domain": [-4.75, 5.79], "nice": false, "zero": false, "range": [327, 153]}, "axis": null}}}
        ]}
      ],
      "spacing": 0, "align": "each",
      "resolve": {"scale": {"x": "independent", "y": "independent", "color": "independent", "size": "independent"}}
     }
    ],
    "spacing": 0, "align": "each",
    "resolve": {"scale": {"x": "independent", "y": "independent", "color": "independent", "size": "independent"}}
   }
  ],
  "spacing": 58, "align": "each",
  "resolve": {"scale": {"x": "independent", "y": "independent", "color": "independent", "size": "independent"}}
 }
]
}
